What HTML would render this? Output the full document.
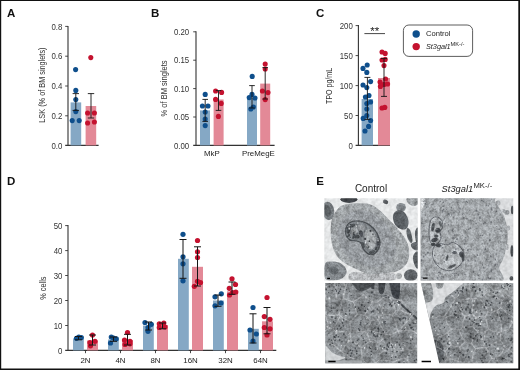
<!DOCTYPE html>
<html><head><meta charset="utf-8"><title>Figure</title>
<style>
html,body{margin:0;padding:0;background:#fff;}
body{width:520px;height:370px;overflow:hidden;font-family:"Liberation Sans",sans-serif;}
svg{display:block;position:absolute;left:0;top:0;}
text{font-family:"Liberation Sans",sans-serif;fill:#222;}
.tk{font-size:8.7px;fill:#333;}
.yl{font-size:9.8px;fill:#333;}
.xl{font-size:7.9px;fill:#222;}
.lg{font-size:7.6px;fill:#222;}
.pl{font-size:11.5px;font-weight:bold;fill:#111;}
.hd{font-size:10px;fill:#222;}
</style></head><body>
<svg width="520" height="370" viewBox="0 0 520 370">
<defs><filter id="nf" x="0" y="0" width="520" height="370" filterUnits="userSpaceOnUse"><feOffset dx="0" dy="0"/></filter></defs>
<rect x="0" y="0" width="520" height="370" fill="#fff"/>
<g filter="url(#nf)">
<path d="M68 25.9V145.4M65.2 145.4H98.6" stroke="#333" stroke-width="1.1" fill="none"/>
<path d="M65.2 26.4H68" stroke="#333" stroke-width="0.9"/>
<text transform="translate(62.4 29.5) scale(0.9 1)" text-anchor="end" class="tk">0.8</text>
<path d="M65.2 56.2H68" stroke="#333" stroke-width="0.9"/>
<text transform="translate(62.4 59.3) scale(0.9 1)" text-anchor="end" class="tk">0.6</text>
<path d="M65.2 86H68" stroke="#333" stroke-width="0.9"/>
<text transform="translate(62.4 89.1) scale(0.9 1)" text-anchor="end" class="tk">0.4</text>
<path d="M65.2 115.8H68" stroke="#333" stroke-width="0.9"/>
<text transform="translate(62.4 118.9) scale(0.9 1)" text-anchor="end" class="tk">0.2</text>
<text transform="translate(62.4 148.5) scale(0.9 1)" text-anchor="end" class="tk">0.0</text>
<text transform="translate(44.6 85.1) rotate(-90)" text-anchor="middle" class="yl" textLength="75.2" lengthAdjust="spacingAndGlyphs">LSK (% of BM singlets)</text>
<rect x="70.6" y="102.4" width="10.6" height="43.00" fill="#85a8c5"/>
<rect x="85.6" y="106" width="10.6" height="39.40" fill="#e38997"/>
<circle cx="75.6" cy="69.6" r="2.55" fill="#0f4f8c"/>
<circle cx="75.8" cy="90.4" r="2.55" fill="#0f4f8c"/>
<circle cx="75.8" cy="99.6" r="2.55" fill="#0f4f8c"/>
<circle cx="75.8" cy="111.6" r="2.55" fill="#0f4f8c"/>
<circle cx="72.2" cy="120.6" r="2.55" fill="#0f4f8c"/>
<circle cx="79.2" cy="120.6" r="2.55" fill="#0f4f8c"/>
<circle cx="90.8" cy="57.6" r="2.55" fill="#c4122f"/>
<circle cx="87.6" cy="113" r="2.55" fill="#c4122f"/>
<circle cx="94.4" cy="113" r="2.55" fill="#c4122f"/>
<circle cx="87.6" cy="123" r="2.55" fill="#c4122f"/>
<circle cx="94.4" cy="122" r="2.55" fill="#c4122f"/>
<path d="M72.6 93.6H79.0M72.6 110.4H79.0M75.8 93.6V110.4" stroke="#151515" stroke-width="0.9" fill="none"/>
<path d="M87.8 93.6H94.2M87.8 118H94.2M91 93.6V118" stroke="#151515" stroke-width="0.9" fill="none"/>
<path d="M196 31.3V145.4M193.2 145.4H274.6" stroke="#333" stroke-width="1.1" fill="none"/>
<path d="M193.2 31.8H196" stroke="#333" stroke-width="0.9"/>
<text transform="translate(189.2 34.9) scale(0.9 1)" text-anchor="end" class="tk">0.20</text>
<path d="M193.2 60.2H196" stroke="#333" stroke-width="0.9"/>
<text transform="translate(189.2 63.3) scale(0.9 1)" text-anchor="end" class="tk">0.15</text>
<path d="M193.2 88.6H196" stroke="#333" stroke-width="0.9"/>
<text transform="translate(189.2 91.7) scale(0.9 1)" text-anchor="end" class="tk">0.10</text>
<path d="M193.2 117H196" stroke="#333" stroke-width="0.9"/>
<text transform="translate(189.2 120.1) scale(0.9 1)" text-anchor="end" class="tk">0.05</text>
<text transform="translate(189.2 148.5) scale(0.9 1)" text-anchor="end" class="tk">0.00</text>
<text transform="translate(166.6 88.4) rotate(-90)" text-anchor="middle" class="yl" textLength="56" lengthAdjust="spacingAndGlyphs">% of BM singlets</text>
<rect x="200" y="110.4" width="10" height="35.00" fill="#85a8c5"/>
<rect x="213.6" y="99.5" width="10" height="45.90" fill="#e38997"/>
<rect x="247" y="98" width="10" height="47.40" fill="#85a8c5"/>
<rect x="260.2" y="83.6" width="10" height="61.80" fill="#e38997"/>
<circle cx="205.2" cy="94.4" r="2.55" fill="#0f4f8c"/>
<circle cx="202.4" cy="106" r="2.55" fill="#0f4f8c"/>
<circle cx="208" cy="106" r="2.55" fill="#0f4f8c"/>
<circle cx="205.2" cy="112" r="2.55" fill="#0f4f8c"/>
<circle cx="205.2" cy="119" r="2.55" fill="#0f4f8c"/>
<circle cx="205.2" cy="125.6" r="2.55" fill="#0f4f8c"/>
<circle cx="215.6" cy="91" r="2.55" fill="#c4122f"/>
<circle cx="221.6" cy="92.4" r="2.55" fill="#c4122f"/>
<circle cx="215.6" cy="99.4" r="2.55" fill="#c4122f"/>
<circle cx="221.2" cy="103.4" r="2.55" fill="#c4122f"/>
<circle cx="218.4" cy="116.4" r="2.55" fill="#c4122f"/>
<circle cx="252.2" cy="76.4" r="2.55" fill="#0f4f8c"/>
<circle cx="252" cy="94.4" r="2.55" fill="#0f4f8c"/>
<circle cx="249.2" cy="97.6" r="2.55" fill="#0f4f8c"/>
<circle cx="255" cy="98" r="2.55" fill="#0f4f8c"/>
<circle cx="253.4" cy="107" r="2.55" fill="#0f4f8c"/>
<circle cx="250.8" cy="109" r="2.55" fill="#0f4f8c"/>
<circle cx="265.2" cy="64" r="2.55" fill="#c4122f"/>
<circle cx="265.2" cy="69" r="2.55" fill="#c4122f"/>
<circle cx="262.4" cy="91" r="2.55" fill="#c4122f"/>
<circle cx="268" cy="92.6" r="2.55" fill="#c4122f"/>
<circle cx="265.2" cy="99.6" r="2.55" fill="#c4122f"/>
<text x="211.8" y="156" text-anchor="middle" class="xl">MkP</text>
<text x="258.4" y="156" text-anchor="middle" class="xl">PreMegE</text>
<path d="M202.39999999999998 99.4H208.0M202.39999999999998 121.4H208.0M205.2 99.4V121.4" stroke="#151515" stroke-width="0.9" fill="none"/>
<path d="M215.7 90.6H221.3M215.7 110.4H221.3M218.5 90.6V110.4" stroke="#151515" stroke-width="0.9" fill="none"/>
<path d="M249.2 85.6H254.8M249.2 108H254.8M252 85.6V108" stroke="#151515" stroke-width="0.9" fill="none"/>
<path d="M262.4 67.6H268.0M262.4 99H268.0M265.2 67.6V99" stroke="#151515" stroke-width="0.9" fill="none"/>
<path d="M358.4 25.1V145.4M355.59999999999997 145.4H390" stroke="#333" stroke-width="1.1" fill="none"/>
<path d="M355.59999999999997 25.6H358.4" stroke="#333" stroke-width="0.9"/>
<text transform="translate(352.8 28.7) scale(0.9 1)" text-anchor="end" class="tk">200</text>
<path d="M355.59999999999997 55.6H358.4" stroke="#333" stroke-width="0.9"/>
<text transform="translate(352.8 58.7) scale(0.9 1)" text-anchor="end" class="tk">150</text>
<path d="M355.59999999999997 85.6H358.4" stroke="#333" stroke-width="0.9"/>
<text transform="translate(352.8 88.7) scale(0.9 1)" text-anchor="end" class="tk">100</text>
<path d="M355.59999999999997 115.5H358.4" stroke="#333" stroke-width="0.9"/>
<text transform="translate(352.8 118.6) scale(0.9 1)" text-anchor="end" class="tk">50</text>
<text transform="translate(352.8 148.5) scale(0.9 1)" text-anchor="end" class="tk">0</text>
<text transform="translate(332.4 85.9) rotate(-90)" text-anchor="middle" class="yl" textLength="36" lengthAdjust="spacingAndGlyphs">TPO pg/mL</text>
<rect x="361.6" y="99" width="11.4" height="46.40" fill="#85a8c5"/>
<rect x="378" y="78" width="12" height="67.40" fill="#e38997"/>
<circle cx="367.2" cy="65" r="2.55" fill="#0f4f8c"/>
<circle cx="363" cy="68.4" r="2.55" fill="#0f4f8c"/>
<circle cx="366.8" cy="72.4" r="2.55" fill="#0f4f8c"/>
<circle cx="370.6" cy="81.6" r="2.55" fill="#0f4f8c"/>
<circle cx="363" cy="85" r="2.55" fill="#0f4f8c"/>
<circle cx="366.8" cy="87.6" r="2.55" fill="#0f4f8c"/>
<circle cx="369" cy="95.6" r="2.55" fill="#0f4f8c"/>
<circle cx="365.4" cy="97" r="2.55" fill="#0f4f8c"/>
<circle cx="370.6" cy="102" r="2.55" fill="#0f4f8c"/>
<circle cx="366.8" cy="103.6" r="2.55" fill="#0f4f8c"/>
<circle cx="366.8" cy="109" r="2.55" fill="#0f4f8c"/>
<circle cx="366.8" cy="115.6" r="2.55" fill="#0f4f8c"/>
<circle cx="363.2" cy="118.4" r="2.55" fill="#0f4f8c"/>
<circle cx="370.6" cy="120.6" r="2.55" fill="#0f4f8c"/>
<circle cx="368.6" cy="126.4" r="2.55" fill="#0f4f8c"/>
<circle cx="365" cy="131" r="2.55" fill="#0f4f8c"/>
<circle cx="382" cy="52" r="2.55" fill="#c4122f"/>
<circle cx="385.2" cy="53.4" r="2.55" fill="#c4122f"/>
<circle cx="382" cy="60" r="2.55" fill="#c4122f"/>
<circle cx="385.2" cy="59.4" r="2.55" fill="#c4122f"/>
<circle cx="384" cy="65.6" r="2.55" fill="#c4122f"/>
<circle cx="385.6" cy="79" r="2.55" fill="#c4122f"/>
<circle cx="380" cy="82" r="2.55" fill="#c4122f"/>
<circle cx="384" cy="84.4" r="2.55" fill="#c4122f"/>
<circle cx="387.6" cy="84" r="2.55" fill="#c4122f"/>
<circle cx="380.4" cy="86.4" r="2.55" fill="#c4122f"/>
<circle cx="382" cy="108" r="2.55" fill="#c4122f"/>
<circle cx="384.8" cy="107.4" r="2.55" fill="#c4122f"/>
<path d="M364.4 33.6H385" stroke="#333" stroke-width="0.9"/>
<text x="374.7" y="35" text-anchor="middle" style="font-size:11.5px" fill="#222">**</text>
<path d="M364.4 77.4H370.4M364.4 119.4H370.4M367.4 77.4V119.4" stroke="#151515" stroke-width="0.9" fill="none"/>
<path d="M381 58.6H387M381 96.4H387M384 58.6V96.4" stroke="#151515" stroke-width="0.9" fill="none"/>
<rect x="403.4" y="25" width="69.2" height="31.4" rx="5.5" fill="#fff" stroke="#333" stroke-width="0.8"/>
<circle cx="416.2" cy="34" r="3.7" fill="#0f4f8c"/><circle cx="416.2" cy="46.6" r="3.7" fill="#c4122f"/>
<text x="426" y="36.3" class="lg">Control</text>
<text x="426" y="49" class="lg" font-style="italic" style="font-size:7.25px">St3gal1</text>
<text x="450.6" y="46.3" class="lg" style="font-size:5.6px" textLength="13.8" lengthAdjust="spacingAndGlyphs">MK-/-</text>
<path d="M68 225.1V350.4M65.2 350.4H276.3" stroke="#333" stroke-width="1.1" fill="none"/>
<path d="M65.2 225.6H68" stroke="#333" stroke-width="0.9"/>
<text transform="translate(62.4 228.7) scale(0.9 1)" text-anchor="end" class="tk">50</text>
<path d="M65.2 250.6H68" stroke="#333" stroke-width="0.9"/>
<text transform="translate(62.4 253.7) scale(0.9 1)" text-anchor="end" class="tk">40</text>
<path d="M65.2 275.5H68" stroke="#333" stroke-width="0.9"/>
<text transform="translate(62.4 278.6) scale(0.9 1)" text-anchor="end" class="tk">30</text>
<path d="M65.2 300.5H68" stroke="#333" stroke-width="0.9"/>
<text transform="translate(62.4 303.6) scale(0.9 1)" text-anchor="end" class="tk">20</text>
<path d="M65.2 325.5H68" stroke="#333" stroke-width="0.9"/>
<text transform="translate(62.4 328.6) scale(0.9 1)" text-anchor="end" class="tk">10</text>
<text transform="translate(62.4 353.5) scale(0.9 1)" text-anchor="end" class="tk">0</text>
<text transform="translate(46.4 288.2) rotate(-90)" text-anchor="middle" class="yl" textLength="23.3" lengthAdjust="spacingAndGlyphs">% cells</text>
<rect x="73" y="338.6" width="10.8" height="11.80" fill="#85a8c5"/>
<rect x="87" y="340.5" width="11" height="9.90" fill="#e38997"/>
<path d="M85.5 350.4v2.8" stroke="#333" stroke-width="0.9"/>
<text x="85.5" y="362.8" text-anchor="middle" class="xl">2N</text>
<rect x="108" y="339.5" width="10.8" height="10.90" fill="#85a8c5"/>
<rect x="122" y="340" width="11" height="10.40" fill="#e38997"/>
<path d="M120.5 350.4v2.8" stroke="#333" stroke-width="0.9"/>
<text x="120.5" y="362.8" text-anchor="middle" class="xl">4N</text>
<rect x="143" y="325.5" width="10.8" height="24.90" fill="#85a8c5"/>
<rect x="157" y="325" width="11" height="25.40" fill="#e38997"/>
<path d="M155.5 350.4v2.8" stroke="#333" stroke-width="0.9"/>
<text x="155.5" y="362.8" text-anchor="middle" class="xl">8N</text>
<rect x="178" y="258.8" width="10.8" height="91.60" fill="#85a8c5"/>
<rect x="192" y="266.8" width="11" height="83.60" fill="#e38997"/>
<path d="M190.5 350.4v2.8" stroke="#333" stroke-width="0.9"/>
<text x="190.5" y="362.8" text-anchor="middle" class="xl">16N</text>
<rect x="213" y="300.5" width="10.8" height="49.90" fill="#85a8c5"/>
<rect x="227" y="291.3" width="11" height="59.10" fill="#e38997"/>
<path d="M225.5 350.4v2.8" stroke="#333" stroke-width="0.9"/>
<text x="225.5" y="362.8" text-anchor="middle" class="xl">32N</text>
<rect x="248" y="328.8" width="10.8" height="21.60" fill="#85a8c5"/>
<rect x="262" y="321.3" width="11" height="29.10" fill="#e38997"/>
<path d="M260.5 350.4v2.8" stroke="#333" stroke-width="0.9"/>
<text x="260.5" y="362.8" text-anchor="middle" class="xl">64N</text>
<circle cx="76.5" cy="338.3" r="2.6" fill="#0f4f8c"/>
<circle cx="78.8" cy="337" r="2.6" fill="#0f4f8c"/>
<circle cx="81.3" cy="337.5" r="2.6" fill="#0f4f8c"/>
<circle cx="92.5" cy="335" r="2.6" fill="#c4122f"/>
<circle cx="95" cy="341.3" r="2.6" fill="#c4122f"/>
<circle cx="90" cy="342.5" r="2.6" fill="#c4122f"/>
<circle cx="90.5" cy="345.8" r="2.6" fill="#c4122f"/>
<circle cx="111.3" cy="337" r="2.6" fill="#0f4f8c"/>
<circle cx="116.3" cy="338.8" r="2.6" fill="#0f4f8c"/>
<circle cx="113.5" cy="338" r="2.6" fill="#0f4f8c"/>
<circle cx="110.5" cy="343" r="2.6" fill="#0f4f8c"/>
<circle cx="127.5" cy="332.5" r="2.6" fill="#c4122f"/>
<circle cx="124.5" cy="340" r="2.6" fill="#c4122f"/>
<circle cx="130" cy="341.3" r="2.6" fill="#c4122f"/>
<circle cx="125" cy="344.5" r="2.6" fill="#c4122f"/>
<circle cx="130" cy="343.8" r="2.6" fill="#c4122f"/>
<circle cx="145" cy="322.5" r="2.6" fill="#0f4f8c"/>
<circle cx="151.3" cy="324.3" r="2.6" fill="#0f4f8c"/>
<circle cx="148" cy="327.5" r="2.6" fill="#0f4f8c"/>
<circle cx="148" cy="331.3" r="2.6" fill="#0f4f8c"/>
<circle cx="159.3" cy="323.8" r="2.6" fill="#c4122f"/>
<circle cx="163.8" cy="323" r="2.6" fill="#c4122f"/>
<circle cx="159.3" cy="327.5" r="2.6" fill="#c4122f"/>
<circle cx="165" cy="327" r="2.6" fill="#c4122f"/>
<circle cx="183" cy="234.3" r="2.6" fill="#0f4f8c"/>
<circle cx="183" cy="256.8" r="2.6" fill="#0f4f8c"/>
<circle cx="183" cy="263.8" r="2.6" fill="#0f4f8c"/>
<circle cx="183" cy="280.8" r="2.6" fill="#0f4f8c"/>
<circle cx="197.5" cy="240.5" r="2.6" fill="#c4122f"/>
<circle cx="197.5" cy="251.8" r="2.6" fill="#c4122f"/>
<circle cx="197.5" cy="257.5" r="2.6" fill="#c4122f"/>
<circle cx="197.5" cy="281.3" r="2.6" fill="#c4122f"/>
<circle cx="200.5" cy="282.5" r="2.6" fill="#c4122f"/>
<circle cx="194.3" cy="286.3" r="2.6" fill="#c4122f"/>
<circle cx="221.3" cy="293.8" r="2.6" fill="#0f4f8c"/>
<circle cx="215" cy="296.8" r="2.6" fill="#0f4f8c"/>
<circle cx="221" cy="303" r="2.6" fill="#0f4f8c"/>
<circle cx="215" cy="305.8" r="2.6" fill="#0f4f8c"/>
<circle cx="232" cy="278.8" r="2.6" fill="#c4122f"/>
<circle cx="235.5" cy="284.5" r="2.6" fill="#c4122f"/>
<circle cx="229.3" cy="288.3" r="2.6" fill="#c4122f"/>
<circle cx="235.8" cy="292" r="2.6" fill="#c4122f"/>
<circle cx="229.5" cy="295" r="2.6" fill="#c4122f"/>
<circle cx="232.5" cy="292.5" r="2.6" fill="#c4122f"/>
<circle cx="253" cy="307.5" r="2.6" fill="#0f4f8c"/>
<circle cx="250" cy="330" r="2.6" fill="#0f4f8c"/>
<circle cx="256.3" cy="334" r="2.6" fill="#0f4f8c"/>
<circle cx="253" cy="341" r="2.6" fill="#0f4f8c"/>
<circle cx="267" cy="297.5" r="2.6" fill="#c4122f"/>
<circle cx="264.3" cy="316.6" r="2.6" fill="#c4122f"/>
<circle cx="270" cy="319.3" r="2.6" fill="#c4122f"/>
<circle cx="264.3" cy="327.5" r="2.6" fill="#c4122f"/>
<circle cx="270" cy="328.8" r="2.6" fill="#c4122f"/>
<circle cx="267" cy="335" r="2.6" fill="#c4122f"/>
<path d="M75.0 336.5H82.0M75.0 339.8H82.0M78.5 336.5V339.8" stroke="#151515" stroke-width="1.0" fill="none"/>
<path d="M89.0 335H96.0M89.0 345H96.0M92.5 335V345" stroke="#151515" stroke-width="1.0" fill="none"/>
<path d="M110.0 337H117.0M110.0 341.3H117.0M113.5 337V341.3" stroke="#151515" stroke-width="1.0" fill="none"/>
<path d="M124.0 334.3H131.0M124.0 345H131.0M127.5 334.3V345" stroke="#151515" stroke-width="1.0" fill="none"/>
<path d="M145.0 322H152.0M145.0 330H152.0M148.5 322V330" stroke="#151515" stroke-width="1.0" fill="none"/>
<path d="M159.0 323H166.0M159.0 328.8H166.0M162.5 323V328.8" stroke="#151515" stroke-width="1.0" fill="none"/>
<path d="M179.5 239.5H186.5M179.5 278.3H186.5M183 239.5V278.3" stroke="#151515" stroke-width="1.0" fill="none"/>
<path d="M194.0 246.8H201.0M194.0 286H201.0M197.5 246.8V286" stroke="#151515" stroke-width="1.0" fill="none"/>
<path d="M214.5 295H221.5M214.5 306.3H221.5M218 295V306.3" stroke="#151515" stroke-width="1.0" fill="none"/>
<path d="M228.5 282H235.5M228.5 294.3H235.5M232 282V294.3" stroke="#151515" stroke-width="1.0" fill="none"/>
<path d="M249.5 313.8H256.5M249.5 343H256.5M253 313.8V343" stroke="#151515" stroke-width="1.0" fill="none"/>
<path d="M263.5 307.5H270.5M263.5 333.8H270.5M267 307.5V333.8" stroke="#151515" stroke-width="1.0" fill="none"/>
<text x="7" y="16.8" class="pl">A</text>
<text x="151" y="16.8" class="pl">B</text>
<text x="316" y="16.9" class="pl">C</text>
<text x="7" y="184.6" class="pl">D</text>
<text x="316.2" y="184.8" class="pl">E</text>
<text x="371" y="192" text-anchor="middle" class="hd">Control</text>
<text x="441.6" y="192" class="hd" font-style="italic" style="font-size:9.3px">St3gal1</text>
<text x="473.4" y="188.4" class="hd" style="font-size:7px" textLength="18.8" lengthAdjust="spacingAndGlyphs">MK-/-</text>
</g>
<defs>
<filter id="tex" x="0" y="0" width="100%" height="100%" color-interpolation-filters="sRGB">
<feTurbulence type="fractalNoise" baseFrequency="0.2" numOctaves="2" seed="3" result="n1"/>
<feTurbulence type="fractalNoise" baseFrequency="0.55" numOctaves="2" seed="10" result="n2"/>
<feColorMatrix in="n1" type="matrix" values="2.2 0 0 0 -0.45  2.2 0 0 0 -0.45  2.2 0 0 0 -0.45  0 0 0 0 1" result="g1"/>
<feColorMatrix in="n2" type="matrix" values="1.6 0 0 0 -0.15  1.6 0 0 0 -0.15  1.6 0 0 0 -0.15  0 0 0 0 1" result="g2"/>
<feComposite in="g1" in2="g2" operator="arithmetic" k1="0" k2="0.5" k3="0.5" k4="0" result="gm"/>
<feColorMatrix in="gm" type="matrix" values="1 0 0 0 0  0 1 0 0 0  0 0 1 0 0  0 0 0 0 0.5" result="g"/>
<feColorMatrix in="SourceGraphic" type="matrix" values="1.187 0 0 0 0  0 1.187 0 0 0  0 0 1.187 0 0  0 0 0 1 0" result="s"/>
<feGaussianBlur in="s" stdDeviation="0.45" result="b"/>
<feComposite in="b" in2="g" operator="arithmetic" k1="0.900" k2="0.550" k3="0" k4="0"/>
</filter>
<filter id="tex2" x="0" y="0" width="100%" height="100%" color-interpolation-filters="sRGB">
<feTurbulence type="fractalNoise" baseFrequency="0.09" numOctaves="2" seed="11" result="n1"/>
<feTurbulence type="fractalNoise" baseFrequency="0.42" numOctaves="2" seed="18" result="n2"/>
<feColorMatrix in="n1" type="matrix" values="2.2 0 0 0 -0.45  2.2 0 0 0 -0.45  2.2 0 0 0 -0.45  0 0 0 0 1" result="g1"/>
<feColorMatrix in="n2" type="matrix" values="1.6 0 0 0 -0.15  1.6 0 0 0 -0.15  1.6 0 0 0 -0.15  0 0 0 0 1" result="g2"/>
<feComposite in="g1" in2="g2" operator="arithmetic" k1="0" k2="0.45" k3="0.55" k4="0" result="gm"/>
<feColorMatrix in="gm" type="matrix" values="1 0 0 0 0  0 1 0 0 0  0 0 1 0 0  0 0 0 0 0.5" result="g"/>
<feColorMatrix in="SourceGraphic" type="matrix" values="1.238 0 0 0 0  0 1.238 0 0 0  0 0 1.238 0 0  0 0 0 1 0" result="s"/>
<feGaussianBlur in="s" stdDeviation="0.45" result="b"/>
<feComposite in="b" in2="g" operator="arithmetic" k1="1.100" k2="0.450" k3="0" k4="0"/>
</filter>
<filter id="texL" x="0" y="0" width="100%" height="100%" color-interpolation-filters="sRGB">
<feTurbulence type="fractalNoise" baseFrequency="0.25" numOctaves="2" seed="5" result="n"/>
<feColorMatrix in="n" type="matrix" values="1.6 0 0 0 -0.15  1.6 0 0 0 -0.15  1.6 0 0 0 -0.15  0 0 0 0 0.5" result="g"/>
<feColorMatrix in="SourceGraphic" type="matrix" values="1.044 0 0 0 0  0 1.044 0 0 0  0 0 1.044 0 0  0 0 0 1 0" result="s"/>
<feGaussianBlur in="s" stdDeviation="0.5" result="b"/>
<feComposite in="b" in2="g" operator="arithmetic" k1="0.240" k2="0.880" k3="0" k4="0"/>
</filter>
<clipPath id="cTL"><rect x="324.3" y="198.2" width="93.4" height="82.4"/></clipPath>
<clipPath id="cTR"><rect x="420.6" y="198.2" width="92.7" height="82.4"/></clipPath>
<clipPath id="cBL"><rect x="325.2" y="283" width="92" height="80.3"/></clipPath>
<clipPath id="cBR"><path d="M421 283H513.3V363.3H439.3Z"/></clipPath>
</defs>
<g clip-path="url(#cTL)"><g filter="url(#texL)">
<rect x="320" y="195" width="102" height="90" fill="#e6e8e9"/>
</g><g filter="url(#tex)">
<ellipse cx="328.2" cy="210.9" rx="6" ry="9.3" fill="#777c80" transform="rotate(-8 328.2 210.9)" />
<ellipse cx="327.5" cy="211" rx="3.5" ry="6" fill="#5f6468" transform="rotate(-8 327.5 211)" />
<ellipse cx="348.9" cy="199.3" rx="8.5" ry="3.6" fill="#3e4246" />
<ellipse cx="385.6" cy="201.8" rx="2.7" ry="2.1" fill="#5c6064" transform="rotate(25 385.6 201.8)" />
<path d="M407.0 198.0C408.7 197.2 416.2 197.0 418.0 198.0C419.8 199.0 418.8 202.7 418.0 204.0C417.2 205.3 414.7 206.2 413.0 206.0C411.3 205.8 409.0 204.3 408.0 203.0C407.0 201.7 405.3 198.8 407.0 198.0Z" fill="#9a9ea1" />
<ellipse cx="401" cy="207.5" rx="4.8" ry="4.6" fill="#83888c" />
<path d="M394.0 213.0C395.0 211.5 397.2 210.0 399.0 210.0C400.8 210.0 403.4 211.2 405.0 213.0C406.6 214.8 408.2 218.5 408.5 221.0C408.8 223.5 408.1 226.6 407.0 228.0C405.9 229.4 403.8 229.8 402.0 229.5C400.2 229.2 397.5 227.8 396.0 226.0C394.5 224.2 393.3 221.2 393.0 219.0C392.7 216.8 393.0 214.5 394.0 213.0Z" fill="#5c6165" />
<path d="M407.5 228.0C408.2 227.8 409.7 229.0 410.5 231.0C411.3 233.0 412.4 238.0 412.5 240.0C412.6 242.0 411.8 243.2 411.0 243.0C410.2 242.8 408.8 240.8 408.0 239.0C407.2 237.2 406.6 233.8 406.5 232.0C406.4 230.2 406.8 228.2 407.5 228.0Z" fill="#5e6367" />
<path d="M415.0 232.0C415.3 229.7 417.5 226.2 418.0 228.0C418.5 229.8 418.3 240.7 418.0 243.0C417.7 245.3 416.5 243.8 416.0 242.0C415.5 240.2 414.7 234.3 415.0 232.0Z" fill="#5a5f63" />
<path d="M411.0 244.0C411.8 242.8 416.8 241.0 418.0 242.0C419.2 243.0 418.8 248.8 418.0 250.0C417.2 251.2 414.2 250.0 413.0 249.0C411.8 248.0 410.2 245.2 411.0 244.0Z" fill="#63686c" />
<path d="M414.0 254.0C414.8 252.8 417.3 249.7 418.0 252.0C418.7 254.3 418.5 265.7 418.0 268.0C417.5 270.3 415.8 267.5 415.0 266.0C414.2 264.5 413.2 261.0 413.0 259.0C412.8 257.0 413.2 255.2 414.0 254.0Z" fill="#5e6367" />
<ellipse cx="410.8" cy="275.3" rx="6.8" ry="6" fill="#62666a" />
<ellipse cx="399" cy="276" rx="3" ry="3" fill="#a8abad" />
<path d="M325.0 264.0C326.0 261.2 328.7 261.8 331.0 261.5C333.3 261.2 336.7 261.6 339.0 262.5C341.3 263.4 343.8 265.2 345.0 267.0C346.2 268.8 347.0 271.1 346.5 273.0C346.0 274.9 344.2 277.2 342.0 278.5C339.8 279.8 335.8 280.6 333.0 280.5C330.2 280.4 326.3 280.8 325.0 278.0C323.7 275.2 324.0 266.8 325.0 264.0Z" fill="#868b8f" />
<ellipse cx="333.5" cy="270.5" rx="5" ry="4" fill="#666b6f" transform="rotate(15 333.5 270.5)" />
<path d="M352.0 272.0C355.3 270.8 365.3 273.8 372.0 274.0C378.7 274.2 388.0 272.5 392.0 273.0C396.0 273.5 396.3 275.7 396.0 277.0C395.7 278.3 397.3 280.3 390.0 281.0C382.7 281.7 358.3 282.5 352.0 281.0C345.7 279.5 348.7 273.2 352.0 272.0Z" fill="#b4b7b9" />
<path d="M336.5 210.5C337.9 208.7 339.1 207.1 341.0 206.0C342.9 204.9 345.3 204.3 348.0 203.8C350.7 203.3 353.9 203.2 357.0 203.2C360.1 203.2 363.6 203.2 366.3 203.6C369.0 204.0 370.7 204.3 373.0 205.5C375.3 206.7 377.8 208.7 380.0 210.5C382.2 212.3 383.8 214.3 386.0 216.5C388.2 218.7 390.7 221.0 393.0 223.5C395.3 226.0 397.7 228.6 400.0 231.5C402.3 234.4 405.1 237.6 406.6 241.0C408.1 244.4 409.1 248.3 409.2 252.0C409.3 255.7 408.7 259.9 407.0 263.0C405.3 266.1 402.2 268.8 399.0 270.5C395.8 272.2 392.8 272.4 388.0 273.0C383.2 273.6 375.2 274.8 370.0 274.2C364.8 273.6 360.8 271.1 357.0 269.5C353.2 267.9 350.1 266.4 347.0 264.5C343.9 262.6 340.8 260.6 338.5 258.0C336.2 255.4 334.8 252.3 333.5 249.0C332.2 245.7 331.4 241.8 331.0 238.0C330.6 234.2 330.6 229.5 330.8 226.0C331.1 222.5 331.6 219.6 332.5 217.0C333.4 214.4 335.1 212.3 336.5 210.5Z" fill="#a0a4a7" />
<path d="M341.0 222.0C343.3 219.0 347.5 213.8 352.0 212.0C356.5 210.2 363.0 209.7 368.0 211.0C373.0 212.3 378.0 216.2 382.0 220.0C386.0 223.8 389.7 229.0 392.0 234.0C394.3 239.0 396.3 245.3 396.0 250.0C395.7 254.7 393.3 259.2 390.0 262.0C386.7 264.8 381.0 266.7 376.0 267.0C371.0 267.3 364.8 265.8 360.0 264.0C355.2 262.2 350.5 259.7 347.0 256.0C343.5 252.3 340.5 246.3 339.0 242.0C337.5 237.7 337.7 233.3 338.0 230.0C338.3 226.7 338.7 225.0 341.0 222.0Z" fill="#979b9f" />
<path d="M345.5 231.5C345.5 228.7 346.9 224.7 349.2 222.9C351.5 221.2 355.8 220.7 359.1 221.0C362.4 221.3 366.2 222.7 369.1 224.6C372.0 226.5 374.8 229.7 376.6 232.7C378.4 235.7 379.9 239.6 379.9 242.7C379.9 245.8 378.4 249.5 376.8 251.5C375.2 253.5 372.4 254.8 370.3 254.6C368.2 254.4 365.7 252.1 364.1 250.2C362.6 248.3 362.2 244.5 361.0 243.0C359.8 241.5 358.7 241.6 356.7 241.0C354.7 240.4 351.1 241.2 349.2 239.6C347.3 238.0 345.5 234.3 345.5 231.5Z" fill="#7c8185" stroke="#4c5054" stroke-width="1.3"/>
<path d="M365.5 231.0C366.5 229.4 369.0 229.0 370.5 229.5C372.0 230.0 373.6 232.1 374.5 234.0C375.4 235.9 376.0 238.8 376.0 241.0C376.0 243.2 375.4 245.6 374.5 247.0C373.6 248.4 371.8 249.7 370.5 249.5C369.2 249.3 367.5 247.8 366.5 246.0C365.5 244.2 364.7 241.5 364.5 239.0C364.3 236.5 364.5 232.6 365.5 231.0Z" fill="#a6aaad" />
<path d="M351.0 229.0C351.5 227.7 353.8 226.8 355.0 227.0C356.2 227.2 357.8 228.8 358.0 230.0C358.2 231.2 357.0 233.7 356.0 234.5C355.0 235.3 352.8 235.9 352.0 235.0C351.2 234.1 350.5 230.3 351.0 229.0Z" fill="#9a9ea1" />
<path d="M358.5 225.0C359.5 224.4 362.9 224.8 364.0 225.5C365.1 226.2 365.5 228.0 365.0 229.0C364.5 230.0 362.2 231.5 361.0 231.5C359.8 231.5 358.4 230.1 358.0 229.0C357.6 227.9 357.5 225.6 358.5 225.0Z" fill="#94989b" />
<ellipse cx="348.5" cy="230" rx="2" ry="3.6" fill="#474b4f" transform="rotate(15 348.5 230)" />
<ellipse cx="352.5" cy="225.5" rx="3" ry="1.6" fill="#4a4e52" transform="rotate(-25 352.5 225.5)" />
<ellipse cx="356.5" cy="236.5" rx="3.2" ry="1.8" fill="#4a4e52" transform="rotate(10 356.5 236.5)" />
<ellipse cx="361.5" cy="234" rx="1.6" ry="3" fill="#50545a" />
<ellipse cx="363" cy="245" rx="1.5" ry="3.4" fill="#4a4e52" transform="rotate(-15 363 245)" />
<ellipse cx="372" cy="252" rx="3.2" ry="1.6" fill="#4a4e52" transform="rotate(-20 372 252)" />
<ellipse cx="378" cy="243" rx="1.3" ry="3.6" fill="#50545a" transform="rotate(5 378 243)" />
<path d="M356.3 226.1m-0.8 0a0.8 0.8 0 1 0 1.5 0a0.8 0.8 0 1 0 -1.5 0M357.8 223.0m-0.7 0a0.7 0.7 0 1 0 1.4 0a0.7 0.7 0 1 0 -1.4 0M349.3 228.6m-0.8 0a0.8 0.8 0 1 0 1.5 0a0.8 0.8 0 1 0 -1.5 0M378.2 240.6m-0.7 0a0.7 0.7 0 1 0 1.3 0a0.7 0.7 0 1 0 -1.3 0M350.0 225.0m-0.6 0a0.6 0.6 0 1 0 1.2 0a0.6 0.6 0 1 0 -1.2 0M365.4 242.7m-0.6 0a0.6 0.6 0 1 0 1.3 0a0.6 0.6 0 1 0 -1.3 0" fill="#d0d3d5"/>
<path d="M347.1 228.0m-0.9 0a0.9 0.9 0 1 0 1.8 0a0.9 0.9 0 1 0 -1.8 0M360.0 231.7m-0.9 0a0.9 0.9 0 1 0 1.7 0a0.9 0.9 0 1 0 -1.7 0M360.9 231.2m-1.0 0a1.0 1.0 0 1 0 2.0 0a1.0 1.0 0 1 0 -2.0 0M365.1 238.9m-1.0 0a1.0 1.0 0 1 0 2.1 0a1.0 1.0 0 1 0 -2.1 0M370.5 230.8m-1.1 0a1.1 1.1 0 1 0 2.2 0a1.1 1.1 0 1 0 -2.2 0M349.1 235.2m-1.0 0a1.0 1.0 0 1 0 1.9 0a1.0 1.0 0 1 0 -1.9 0M350.3 237.6m-0.5 0a0.5 0.5 0 1 0 1.0 0a0.5 0.5 0 1 0 -1.0 0M368.4 247.0m-0.8 0a0.8 0.8 0 1 0 1.7 0a0.8 0.8 0 1 0 -1.7 0M369.3 241.2m-0.8 0a0.8 0.8 0 1 0 1.7 0a0.8 0.8 0 1 0 -1.7 0M378.1 237.1m-0.9 0a0.9 0.9 0 1 0 1.8 0a0.9 0.9 0 1 0 -1.8 0M350.9 225.0m-0.5 0a0.5 0.5 0 1 0 1.1 0a0.5 0.5 0 1 0 -1.1 0M353.7 234.3m-1.0 0a1.0 1.0 0 1 0 2.0 0a1.0 1.0 0 1 0 -2.0 0M347.8 236.3m-0.8 0a0.8 0.8 0 1 0 1.7 0a0.8 0.8 0 1 0 -1.7 0M375.9 248.9m-1.0 0a1.0 1.0 0 1 0 2.0 0a1.0 1.0 0 1 0 -2.0 0M354.7 235.1m-0.7 0a0.7 0.7 0 1 0 1.4 0a0.7 0.7 0 1 0 -1.4 0M350.3 227.0m-0.6 0a0.6 0.6 0 1 0 1.3 0a0.6 0.6 0 1 0 -1.3 0M353.2 237.5m-0.9 0a0.9 0.9 0 1 0 1.7 0a0.9 0.9 0 1 0 -1.7 0M359.7 233.6m-0.8 0a0.8 0.8 0 1 0 1.7 0a0.8 0.8 0 1 0 -1.7 0M378.4 244.5m-0.8 0a0.8 0.8 0 1 0 1.6 0a0.8 0.8 0 1 0 -1.6 0M366.6 244.0m-0.5 0a0.5 0.5 0 1 0 1.1 0a0.5 0.5 0 1 0 -1.1 0M376.5 247.5m-1.0 0a1.0 1.0 0 1 0 2.0 0a1.0 1.0 0 1 0 -2.0 0M372.9 234.3m-0.7 0a0.7 0.7 0 1 0 1.5 0a0.7 0.7 0 1 0 -1.5 0M352.3 226.5m-0.7 0a0.7 0.7 0 1 0 1.4 0a0.7 0.7 0 1 0 -1.4 0M350.3 224.4m-0.7 0a0.7 0.7 0 1 0 1.4 0a0.7 0.7 0 1 0 -1.4 0M353.8 232.8m-0.7 0a0.7 0.7 0 1 0 1.4 0a0.7 0.7 0 1 0 -1.4 0M348.6 232.6m-0.7 0a0.7 0.7 0 1 0 1.3 0a0.7 0.7 0 1 0 -1.3 0" fill="#3e4246"/>
</g>
<path d="M327.2 278.3H330" stroke="#000" stroke-width="1.3"/>
</g>
<g clip-path="url(#cTR)"><g filter="url(#texL)">
<rect x="418" y="195" width="100" height="90" fill="#d8dadc"/>
</g><g filter="url(#tex)">
<path d="M415.0 190.0C427.7 174.5 477.7 188.2 491.0 190.0C504.3 191.8 493.5 197.8 495.0 201.0C496.5 204.2 498.3 205.9 500.0 209.0C501.7 212.1 504.0 215.2 505.3 219.8C506.6 224.4 507.9 230.6 507.8 236.5C507.7 242.4 505.9 250.3 504.5 255.5C503.1 260.6 500.6 262.8 499.3 267.4C498.1 272.0 511.1 280.4 497.0 283.0C482.9 285.6 428.7 298.5 415.0 283.0C401.3 267.5 402.3 205.5 415.0 190.0Z" fill="#a3a7aa" />
<path d="M421.0 199.0C421.7 197.2 424.4 198.3 425.0 199.0C425.6 199.7 424.8 201.3 424.5 203.0C424.2 204.7 423.6 207.8 423.0 209.0C422.4 210.2 421.3 211.7 421.0 210.0C420.7 208.3 420.3 200.8 421.0 199.0Z" fill="#cfd2d4" />
<ellipse cx="498" cy="203" rx="2.5" ry="2.5" fill="#a9adb0" />
<ellipse cx="503.5" cy="211" rx="2" ry="2" fill="#a9adb0" />
<ellipse cx="508.5" cy="228" rx="1.8" ry="2.4" fill="#a9adb0" />
<ellipse cx="507" cy="247" rx="1.8" ry="3" fill="#a9adb0" />
<ellipse cx="506.8" cy="212.5" rx="2.6" ry="2.4" fill="#9ea2a5" />
<ellipse cx="512.2" cy="210" rx="1.3" ry="4.2" fill="#4c5054" />
<ellipse cx="512" cy="251" rx="1.6" ry="6" fill="#4c5054" />
<ellipse cx="511.5" cy="278.5" rx="2" ry="2.5" fill="#5a5e62" />
<path d="M430.5 221.0C431.3 218.7 432.7 217.8 434.0 217.2C435.3 216.6 437.2 216.9 438.5 217.5C439.8 218.1 441.3 219.4 442.0 221.0C442.7 222.6 442.8 225.2 442.5 227.0C442.2 228.8 440.2 230.2 440.0 232.0C439.8 233.8 441.3 236.2 441.0 238.0C440.7 239.8 439.3 241.8 438.0 243.0C436.7 244.2 434.4 245.5 433.0 245.0C431.6 244.5 430.5 242.3 429.8 240.0C429.1 237.7 428.9 234.2 429.0 231.0C429.1 227.8 429.7 223.3 430.5 221.0Z" fill="#b3b7ba" stroke="#50545a" stroke-width="0.8"/>
<path d="M434.0 247.0C435.2 245.1 437.8 243.8 440.0 243.5C442.2 243.2 445.0 245.2 447.0 245.0C449.0 244.8 450.2 242.5 452.0 242.5C453.8 242.5 456.2 243.6 458.0 245.0C459.8 246.4 462.1 248.7 463.0 251.0C463.9 253.3 464.2 256.5 463.5 259.0C462.8 261.5 461.1 264.1 459.0 266.0C456.9 267.9 453.8 270.0 451.0 270.5C448.2 271.0 444.6 270.2 442.0 269.0C439.4 267.8 437.1 265.3 435.5 263.0C433.9 260.7 432.8 257.7 432.5 255.0C432.2 252.3 432.8 248.9 434.0 247.0Z" fill="#b3b7ba" stroke="#50545a" stroke-width="0.8"/>
<ellipse cx="433" cy="227" rx="1.6" ry="4.2" fill="#4a4e52" transform="rotate(10 433 227)" />
<ellipse cx="434.5" cy="240" rx="3.4" ry="2.2" fill="#44484c" transform="rotate(-20 434.5 240)" />
<ellipse cx="438.5" cy="245.5" rx="3" ry="1.8" fill="#484c50" transform="rotate(15 438.5 245.5)" />
<ellipse cx="440.5" cy="224" rx="1.4" ry="3" fill="#5a5e62" transform="rotate(-20 440.5 224)" />
<ellipse cx="462.8" cy="257" rx="1.4" ry="4.5" fill="#484c50" transform="rotate(-8 462.8 257)" />
<ellipse cx="452" cy="266.5" rx="4" ry="1.3" fill="#55595d" transform="rotate(-25 452 266.5)" />
<ellipse cx="438" cy="230.4" rx="2.6" ry="2.3" fill="#3c4044" />
<ellipse cx="436.2" cy="236" rx="2.2" ry="1.6" fill="#4a4e52" />
<ellipse cx="433.3" cy="244.5" rx="2.5" ry="1.8" fill="#44484c" />
<ellipse cx="461.5" cy="254.5" rx="2.2" ry="3" fill="#44484c" transform="rotate(-20 461.5 254.5)" />
<ellipse cx="454.5" cy="252.5" rx="2.2" ry="1.5" fill="#50545a" />
<ellipse cx="447" cy="258" rx="1.2" ry="3.2" fill="#5a5e62" transform="rotate(15 447 258)" />
<path d="M443.0 247.0C443.8 246.2 447.5 245.5 449.0 246.0C450.5 246.5 452.2 248.8 452.0 250.0C451.8 251.2 449.3 252.8 448.0 253.0C446.7 253.2 444.8 252.0 444.0 251.0C443.2 250.0 442.2 247.8 443.0 247.0Z" fill="#9a9ea1" />
<path d="M490.6 212.1m-0.4 0a0.4 0.4 0 1 0 0.8 0a0.4 0.4 0 1 0 -0.8 0M500.9 241.8m-0.5 0a0.5 0.5 0 1 0 0.9 0a0.5 0.5 0 1 0 -0.9 0M466.6 201.2m-0.6 0a0.6 0.6 0 1 0 1.2 0a0.6 0.6 0 1 0 -1.2 0M479.5 220.2m-0.5 0a0.5 0.5 0 1 0 1.1 0a0.5 0.5 0 1 0 -1.1 0M435.0 261.5m-0.6 0a0.6 0.6 0 1 0 1.2 0a0.6 0.6 0 1 0 -1.2 0M486.4 225.7m-0.5 0a0.5 0.5 0 1 0 1.0 0a0.5 0.5 0 1 0 -1.0 0M489.2 278.8m-0.7 0a0.7 0.7 0 1 0 1.5 0a0.7 0.7 0 1 0 -1.5 0M488.7 265.3m-0.7 0a0.7 0.7 0 1 0 1.4 0a0.7 0.7 0 1 0 -1.4 0M440.0 240.9m-0.5 0a0.5 0.5 0 1 0 1.1 0a0.5 0.5 0 1 0 -1.1 0M423.4 201.3m-0.5 0a0.5 0.5 0 1 0 1.0 0a0.5 0.5 0 1 0 -1.0 0M442.8 255.1m-0.8 0a0.8 0.8 0 1 0 1.6 0a0.8 0.8 0 1 0 -1.6 0M458.6 274.9m-0.8 0a0.8 0.8 0 1 0 1.6 0a0.8 0.8 0 1 0 -1.6 0M501.2 228.5m-0.5 0a0.5 0.5 0 1 0 1.0 0a0.5 0.5 0 1 0 -1.0 0M440.1 214.9m-0.5 0a0.5 0.5 0 1 0 1.0 0a0.5 0.5 0 1 0 -1.0 0M473.4 271.9m-0.7 0a0.7 0.7 0 1 0 1.5 0a0.7 0.7 0 1 0 -1.5 0M461.3 251.9m-0.7 0a0.7 0.7 0 1 0 1.4 0a0.7 0.7 0 1 0 -1.4 0M428.1 252.5m-0.8 0a0.8 0.8 0 1 0 1.5 0a0.8 0.8 0 1 0 -1.5 0M486.7 259.8m-0.6 0a0.6 0.6 0 1 0 1.2 0a0.6 0.6 0 1 0 -1.2 0M436.0 262.9m-0.5 0a0.5 0.5 0 1 0 1.1 0a0.5 0.5 0 1 0 -1.1 0M488.3 277.7m-0.6 0a0.6 0.6 0 1 0 1.1 0a0.6 0.6 0 1 0 -1.1 0M454.7 275.7m-0.7 0a0.7 0.7 0 1 0 1.4 0a0.7 0.7 0 1 0 -1.4 0M435.3 209.3m-0.5 0a0.5 0.5 0 1 0 0.9 0a0.5 0.5 0 1 0 -0.9 0M497.0 264.3m-0.5 0a0.5 0.5 0 1 0 0.9 0a0.5 0.5 0 1 0 -0.9 0M490.4 278.4m-0.7 0a0.7 0.7 0 1 0 1.3 0a0.7 0.7 0 1 0 -1.3 0M450.4 243.4m-0.5 0a0.5 0.5 0 1 0 0.9 0a0.5 0.5 0 1 0 -0.9 0M422.2 277.6m-0.7 0a0.7 0.7 0 1 0 1.3 0a0.7 0.7 0 1 0 -1.3 0M465.2 274.6m-0.6 0a0.6 0.6 0 1 0 1.1 0a0.6 0.6 0 1 0 -1.1 0M494.2 265.9m-0.5 0a0.5 0.5 0 1 0 1.0 0a0.5 0.5 0 1 0 -1.0 0M442.2 222.7m-0.5 0a0.5 0.5 0 1 0 1.0 0a0.5 0.5 0 1 0 -1.0 0M470.3 220.0m-0.6 0a0.6 0.6 0 1 0 1.1 0a0.6 0.6 0 1 0 -1.1 0M432.0 272.7m-0.5 0a0.5 0.5 0 1 0 1.1 0a0.5 0.5 0 1 0 -1.1 0M459.5 246.3m-0.8 0a0.8 0.8 0 1 0 1.5 0a0.8 0.8 0 1 0 -1.5 0M456.3 273.3m-0.6 0a0.6 0.6 0 1 0 1.2 0a0.6 0.6 0 1 0 -1.2 0M465.7 241.4m-0.4 0a0.4 0.4 0 1 0 0.8 0a0.4 0.4 0 1 0 -0.8 0M458.0 213.8m-0.4 0a0.4 0.4 0 1 0 0.8 0a0.4 0.4 0 1 0 -0.8 0M488.1 213.0m-0.6 0a0.6 0.6 0 1 0 1.2 0a0.6 0.6 0 1 0 -1.2 0M481.9 244.1m-0.5 0a0.5 0.5 0 1 0 1.1 0a0.5 0.5 0 1 0 -1.1 0M464.5 244.0m-0.7 0a0.7 0.7 0 1 0 1.4 0a0.7 0.7 0 1 0 -1.4 0M429.9 244.4m-0.5 0a0.5 0.5 0 1 0 1.0 0a0.5 0.5 0 1 0 -1.0 0M444.3 261.6m-0.6 0a0.6 0.6 0 1 0 1.2 0a0.6 0.6 0 1 0 -1.2 0M468.2 260.6m-0.8 0a0.8 0.8 0 1 0 1.5 0a0.8 0.8 0 1 0 -1.5 0M458.2 248.6m-0.6 0a0.6 0.6 0 1 0 1.2 0a0.6 0.6 0 1 0 -1.2 0M464.0 255.1m-0.6 0a0.6 0.6 0 1 0 1.2 0a0.6 0.6 0 1 0 -1.2 0M465.8 237.7m-0.8 0a0.8 0.8 0 1 0 1.6 0a0.8 0.8 0 1 0 -1.6 0M479.7 270.0m-0.8 0a0.8 0.8 0 1 0 1.6 0a0.8 0.8 0 1 0 -1.6 0M442.8 244.3m-0.8 0a0.8 0.8 0 1 0 1.6 0a0.8 0.8 0 1 0 -1.6 0M491.6 210.1m-0.4 0a0.4 0.4 0 1 0 0.9 0a0.4 0.4 0 1 0 -0.9 0M458.1 204.9m-0.5 0a0.5 0.5 0 1 0 1.0 0a0.5 0.5 0 1 0 -1.0 0M427.1 253.2m-0.7 0a0.7 0.7 0 1 0 1.4 0a0.7 0.7 0 1 0 -1.4 0M496.4 211.5m-0.7 0a0.7 0.7 0 1 0 1.4 0a0.7 0.7 0 1 0 -1.4 0M476.5 210.6m-0.8 0a0.8 0.8 0 1 0 1.5 0a0.8 0.8 0 1 0 -1.5 0M501.0 231.3m-0.6 0a0.6 0.6 0 1 0 1.2 0a0.6 0.6 0 1 0 -1.2 0M434.6 234.0m-0.6 0a0.6 0.6 0 1 0 1.2 0a0.6 0.6 0 1 0 -1.2 0M449.5 214.9m-0.5 0a0.5 0.5 0 1 0 1.1 0a0.5 0.5 0 1 0 -1.1 0M481.7 200.6m-0.6 0a0.6 0.6 0 1 0 1.2 0a0.6 0.6 0 1 0 -1.2 0M458.0 200.5m-0.5 0a0.5 0.5 0 1 0 1.1 0a0.5 0.5 0 1 0 -1.1 0M473.4 240.5m-0.4 0a0.4 0.4 0 1 0 0.9 0a0.4 0.4 0 1 0 -0.9 0M443.3 202.2m-0.7 0a0.7 0.7 0 1 0 1.4 0a0.7 0.7 0 1 0 -1.4 0M443.7 209.5m-0.6 0a0.6 0.6 0 1 0 1.1 0a0.6 0.6 0 1 0 -1.1 0M442.7 211.1m-0.8 0a0.8 0.8 0 1 0 1.5 0a0.8 0.8 0 1 0 -1.5 0M468.9 255.7m-0.4 0a0.4 0.4 0 1 0 0.9 0a0.4 0.4 0 1 0 -0.9 0M425.8 254.7m-0.6 0a0.6 0.6 0 1 0 1.1 0a0.6 0.6 0 1 0 -1.1 0M427.1 275.0m-0.7 0a0.7 0.7 0 1 0 1.3 0a0.7 0.7 0 1 0 -1.3 0M488.3 205.8m-0.7 0a0.7 0.7 0 1 0 1.5 0a0.7 0.7 0 1 0 -1.5 0M426.6 268.9m-0.6 0a0.6 0.6 0 1 0 1.2 0a0.6 0.6 0 1 0 -1.2 0M449.5 243.8m-0.8 0a0.8 0.8 0 1 0 1.5 0a0.8 0.8 0 1 0 -1.5 0M443.5 209.5m-0.6 0a0.6 0.6 0 1 0 1.2 0a0.6 0.6 0 1 0 -1.2 0M441.0 207.9m-0.5 0a0.5 0.5 0 1 0 0.9 0a0.5 0.5 0 1 0 -0.9 0M425.2 215.3m-0.5 0a0.5 0.5 0 1 0 1.0 0a0.5 0.5 0 1 0 -1.0 0M446.6 260.5m-0.5 0a0.5 0.5 0 1 0 1.0 0a0.5 0.5 0 1 0 -1.0 0M463.0 213.4m-0.5 0a0.5 0.5 0 1 0 1.1 0a0.5 0.5 0 1 0 -1.1 0M422.5 219.3m-0.4 0a0.4 0.4 0 1 0 0.8 0a0.4 0.4 0 1 0 -0.8 0M482.6 243.6m-0.5 0a0.5 0.5 0 1 0 1.0 0a0.5 0.5 0 1 0 -1.0 0M460.9 274.7m-0.4 0a0.4 0.4 0 1 0 0.9 0a0.4 0.4 0 1 0 -0.9 0M489.8 234.0m-0.6 0a0.6 0.6 0 1 0 1.2 0a0.6 0.6 0 1 0 -1.2 0M491.1 230.8m-0.6 0a0.6 0.6 0 1 0 1.2 0a0.6 0.6 0 1 0 -1.2 0M478.8 278.6m-0.5 0a0.5 0.5 0 1 0 1.1 0a0.5 0.5 0 1 0 -1.1 0M490.9 256.2m-0.7 0a0.7 0.7 0 1 0 1.3 0a0.7 0.7 0 1 0 -1.3 0M455.0 227.2m-0.4 0a0.4 0.4 0 1 0 0.8 0a0.4 0.4 0 1 0 -0.8 0M431.9 204.7m-0.7 0a0.7 0.7 0 1 0 1.4 0a0.7 0.7 0 1 0 -1.4 0M442.5 212.2m-0.4 0a0.4 0.4 0 1 0 0.9 0a0.4 0.4 0 1 0 -0.9 0M491.7 269.5m-0.7 0a0.7 0.7 0 1 0 1.3 0a0.7 0.7 0 1 0 -1.3 0M444.7 218.6m-0.5 0a0.5 0.5 0 1 0 1.0 0a0.5 0.5 0 1 0 -1.0 0M459.6 211.8m-0.6 0a0.6 0.6 0 1 0 1.2 0a0.6 0.6 0 1 0 -1.2 0M443.1 276.9m-0.8 0a0.8 0.8 0 1 0 1.6 0a0.8 0.8 0 1 0 -1.6 0M467.0 218.8m-0.8 0a0.8 0.8 0 1 0 1.6 0a0.8 0.8 0 1 0 -1.6 0M447.0 227.9m-0.4 0a0.4 0.4 0 1 0 0.8 0a0.4 0.4 0 1 0 -0.8 0M453.1 237.4m-0.6 0a0.6 0.6 0 1 0 1.2 0a0.6 0.6 0 1 0 -1.2 0M437.9 239.9m-0.4 0a0.4 0.4 0 1 0 0.8 0a0.4 0.4 0 1 0 -0.8 0M443.2 206.3m-0.6 0a0.6 0.6 0 1 0 1.1 0a0.6 0.6 0 1 0 -1.1 0M424.5 200.8m-0.5 0a0.5 0.5 0 1 0 1.0 0a0.5 0.5 0 1 0 -1.0 0M440.6 246.4m-0.6 0a0.6 0.6 0 1 0 1.2 0a0.6 0.6 0 1 0 -1.2 0M484.0 252.3m-0.7 0a0.7 0.7 0 1 0 1.4 0a0.7 0.7 0 1 0 -1.4 0M494.8 230.6m-0.5 0a0.5 0.5 0 1 0 1.1 0a0.5 0.5 0 1 0 -1.1 0M481.8 251.1m-0.4 0a0.4 0.4 0 1 0 0.8 0a0.4 0.4 0 1 0 -0.8 0M491.2 271.2m-0.7 0a0.7 0.7 0 1 0 1.3 0a0.7 0.7 0 1 0 -1.3 0M482.6 264.8m-0.5 0a0.5 0.5 0 1 0 0.9 0a0.5 0.5 0 1 0 -0.9 0M465.0 239.9m-0.7 0a0.7 0.7 0 1 0 1.5 0a0.7 0.7 0 1 0 -1.5 0M488.6 265.9m-0.6 0a0.6 0.6 0 1 0 1.3 0a0.6 0.6 0 1 0 -1.3 0M496.0 254.3m-0.7 0a0.7 0.7 0 1 0 1.4 0a0.7 0.7 0 1 0 -1.4 0M440.3 201.5m-0.5 0a0.5 0.5 0 1 0 0.9 0a0.5 0.5 0 1 0 -0.9 0M451.3 207.5m-0.7 0a0.7 0.7 0 1 0 1.5 0a0.7 0.7 0 1 0 -1.5 0M467.9 249.8m-0.7 0a0.7 0.7 0 1 0 1.3 0a0.7 0.7 0 1 0 -1.3 0M478.2 238.6m-0.4 0a0.4 0.4 0 1 0 0.8 0a0.4 0.4 0 1 0 -0.8 0M488.0 259.6m-0.6 0a0.6 0.6 0 1 0 1.2 0a0.6 0.6 0 1 0 -1.2 0M466.0 252.4m-0.4 0a0.4 0.4 0 1 0 0.9 0a0.4 0.4 0 1 0 -0.9 0M482.9 219.4m-0.4 0a0.4 0.4 0 1 0 0.9 0a0.4 0.4 0 1 0 -0.9 0M443.3 258.1m-0.5 0a0.5 0.5 0 1 0 1.0 0a0.5 0.5 0 1 0 -1.0 0M483.1 278.0m-0.6 0a0.6 0.6 0 1 0 1.2 0a0.6 0.6 0 1 0 -1.2 0M453.1 237.8m-0.7 0a0.7 0.7 0 1 0 1.3 0a0.7 0.7 0 1 0 -1.3 0M485.4 249.0m-0.7 0a0.7 0.7 0 1 0 1.3 0a0.7 0.7 0 1 0 -1.3 0M427.5 210.9m-0.5 0a0.5 0.5 0 1 0 1.0 0a0.5 0.5 0 1 0 -1.0 0M483.4 223.7m-0.6 0a0.6 0.6 0 1 0 1.3 0a0.6 0.6 0 1 0 -1.3 0M422.0 203.9m-0.5 0a0.5 0.5 0 1 0 1.0 0a0.5 0.5 0 1 0 -1.0 0M477.4 255.1m-0.7 0a0.7 0.7 0 1 0 1.3 0a0.7 0.7 0 1 0 -1.3 0M445.4 240.8m-0.6 0a0.6 0.6 0 1 0 1.2 0a0.6 0.6 0 1 0 -1.2 0M460.2 208.6m-0.8 0a0.8 0.8 0 1 0 1.5 0a0.8 0.8 0 1 0 -1.5 0M437.7 278.2m-0.8 0a0.8 0.8 0 1 0 1.5 0a0.8 0.8 0 1 0 -1.5 0M422.5 236.2m-0.7 0a0.7 0.7 0 1 0 1.5 0a0.7 0.7 0 1 0 -1.5 0M502.3 235.4m-0.5 0a0.5 0.5 0 1 0 1.0 0a0.5 0.5 0 1 0 -1.0 0M438.6 275.6m-0.5 0a0.5 0.5 0 1 0 1.0 0a0.5 0.5 0 1 0 -1.0 0M469.8 210.5m-0.6 0a0.6 0.6 0 1 0 1.2 0a0.6 0.6 0 1 0 -1.2 0M489.9 240.2m-0.8 0a0.8 0.8 0 1 0 1.5 0a0.8 0.8 0 1 0 -1.5 0M480.1 217.7m-0.8 0a0.8 0.8 0 1 0 1.5 0a0.8 0.8 0 1 0 -1.5 0M461.8 201.0m-0.4 0a0.4 0.4 0 1 0 0.8 0a0.4 0.4 0 1 0 -0.8 0M462.3 235.5m-0.5 0a0.5 0.5 0 1 0 1.0 0a0.5 0.5 0 1 0 -1.0 0M432.8 226.9m-0.5 0a0.5 0.5 0 1 0 1.1 0a0.5 0.5 0 1 0 -1.1 0M491.6 199.1m-0.7 0a0.7 0.7 0 1 0 1.4 0a0.7 0.7 0 1 0 -1.4 0M491.5 208.7m-0.8 0a0.8 0.8 0 1 0 1.5 0a0.8 0.8 0 1 0 -1.5 0M480.9 272.0m-0.5 0a0.5 0.5 0 1 0 1.0 0a0.5 0.5 0 1 0 -1.0 0M452.3 230.8m-0.8 0a0.8 0.8 0 1 0 1.6 0a0.8 0.8 0 1 0 -1.6 0M470.5 228.2m-0.6 0a0.6 0.6 0 1 0 1.1 0a0.6 0.6 0 1 0 -1.1 0M444.1 202.9m-0.4 0a0.4 0.4 0 1 0 0.9 0a0.4 0.4 0 1 0 -0.9 0M491.1 222.1m-0.8 0a0.8 0.8 0 1 0 1.5 0a0.8 0.8 0 1 0 -1.5 0M441.9 220.5m-0.6 0a0.6 0.6 0 1 0 1.2 0a0.6 0.6 0 1 0 -1.2 0M436.9 229.2m-0.8 0a0.8 0.8 0 1 0 1.6 0a0.8 0.8 0 1 0 -1.6 0M495.3 264.8m-0.7 0a0.7 0.7 0 1 0 1.3 0a0.7 0.7 0 1 0 -1.3 0M467.1 257.3m-0.4 0a0.4 0.4 0 1 0 0.8 0a0.4 0.4 0 1 0 -0.8 0M482.5 235.5m-0.7 0a0.7 0.7 0 1 0 1.4 0a0.7 0.7 0 1 0 -1.4 0M475.1 222.2m-0.4 0a0.4 0.4 0 1 0 0.8 0a0.4 0.4 0 1 0 -0.8 0M460.7 226.8m-0.5 0a0.5 0.5 0 1 0 1.0 0a0.5 0.5 0 1 0 -1.0 0M483.1 278.1m-0.5 0a0.5 0.5 0 1 0 1.0 0a0.5 0.5 0 1 0 -1.0 0M476.1 223.4m-0.6 0a0.6 0.6 0 1 0 1.2 0a0.6 0.6 0 1 0 -1.2 0M454.1 212.6m-0.5 0a0.5 0.5 0 1 0 0.9 0a0.5 0.5 0 1 0 -0.9 0M438.5 272.4m-0.6 0a0.6 0.6 0 1 0 1.2 0a0.6 0.6 0 1 0 -1.2 0M439.5 272.4m-0.8 0a0.8 0.8 0 1 0 1.6 0a0.8 0.8 0 1 0 -1.6 0M458.8 210.3m-0.5 0a0.5 0.5 0 1 0 1.0 0a0.5 0.5 0 1 0 -1.0 0M428.6 226.7m-0.4 0a0.4 0.4 0 1 0 0.9 0a0.4 0.4 0 1 0 -0.9 0M441.1 219.9m-0.6 0a0.6 0.6 0 1 0 1.3 0a0.6 0.6 0 1 0 -1.3 0M495.5 259.7m-0.6 0a0.6 0.6 0 1 0 1.1 0a0.6 0.6 0 1 0 -1.1 0M455.8 241.5m-0.6 0a0.6 0.6 0 1 0 1.1 0a0.6 0.6 0 1 0 -1.1 0M449.4 204.0m-0.5 0a0.5 0.5 0 1 0 1.0 0a0.5 0.5 0 1 0 -1.0 0M463.3 250.0m-0.7 0a0.7 0.7 0 1 0 1.5 0a0.7 0.7 0 1 0 -1.5 0M439.1 221.0m-0.5 0a0.5 0.5 0 1 0 1.0 0a0.5 0.5 0 1 0 -1.0 0M454.6 235.1m-0.8 0a0.8 0.8 0 1 0 1.6 0a0.8 0.8 0 1 0 -1.6 0M492.3 269.7m-0.4 0a0.4 0.4 0 1 0 0.8 0a0.4 0.4 0 1 0 -0.8 0M423.7 256.5m-0.8 0a0.8 0.8 0 1 0 1.5 0a0.8 0.8 0 1 0 -1.5 0M460.8 246.6m-0.4 0a0.4 0.4 0 1 0 0.8 0a0.4 0.4 0 1 0 -0.8 0M453.9 274.1m-0.7 0a0.7 0.7 0 1 0 1.5 0a0.7 0.7 0 1 0 -1.5 0M492.9 277.8m-0.5 0a0.5 0.5 0 1 0 1.0 0a0.5 0.5 0 1 0 -1.0 0M430.2 211.5m-0.6 0a0.6 0.6 0 1 0 1.2 0a0.6 0.6 0 1 0 -1.2 0M478.3 275.3m-0.7 0a0.7 0.7 0 1 0 1.4 0a0.7 0.7 0 1 0 -1.4 0M475.4 260.9m-0.6 0a0.6 0.6 0 1 0 1.2 0a0.6 0.6 0 1 0 -1.2 0M467.3 202.2m-0.7 0a0.7 0.7 0 1 0 1.4 0a0.7 0.7 0 1 0 -1.4 0M440.5 273.5m-0.7 0a0.7 0.7 0 1 0 1.3 0a0.7 0.7 0 1 0 -1.3 0M446.5 209.4m-0.5 0a0.5 0.5 0 1 0 1.0 0a0.5 0.5 0 1 0 -1.0 0M474.4 255.6m-0.4 0a0.4 0.4 0 1 0 0.9 0a0.4 0.4 0 1 0 -0.9 0M426.9 241.5m-0.6 0a0.6 0.6 0 1 0 1.3 0a0.6 0.6 0 1 0 -1.3 0M453.6 217.1m-0.6 0a0.6 0.6 0 1 0 1.3 0a0.6 0.6 0 1 0 -1.3 0M421.9 223.4m-0.6 0a0.6 0.6 0 1 0 1.2 0a0.6 0.6 0 1 0 -1.2 0M495.2 237.5m-0.5 0a0.5 0.5 0 1 0 1.0 0a0.5 0.5 0 1 0 -1.0 0M441.8 276.8m-0.7 0a0.7 0.7 0 1 0 1.4 0a0.7 0.7 0 1 0 -1.4 0M446.8 200.8m-0.6 0a0.6 0.6 0 1 0 1.2 0a0.6 0.6 0 1 0 -1.2 0M477.7 233.0m-0.5 0a0.5 0.5 0 1 0 1.0 0a0.5 0.5 0 1 0 -1.0 0M477.1 273.9m-0.5 0a0.5 0.5 0 1 0 1.0 0a0.5 0.5 0 1 0 -1.0 0M423.9 226.4m-0.6 0a0.6 0.6 0 1 0 1.1 0a0.6 0.6 0 1 0 -1.1 0M478.3 215.0m-0.7 0a0.7 0.7 0 1 0 1.4 0a0.7 0.7 0 1 0 -1.4 0M483.1 239.9m-0.5 0a0.5 0.5 0 1 0 1.0 0a0.5 0.5 0 1 0 -1.0 0M489.9 217.7m-0.5 0a0.5 0.5 0 1 0 1.0 0a0.5 0.5 0 1 0 -1.0 0M484.9 222.9m-0.8 0a0.8 0.8 0 1 0 1.6 0a0.8 0.8 0 1 0 -1.6 0M462.6 214.2m-0.5 0a0.5 0.5 0 1 0 1.0 0a0.5 0.5 0 1 0 -1.0 0M456.0 252.9m-0.8 0a0.8 0.8 0 1 0 1.6 0a0.8 0.8 0 1 0 -1.6 0M433.3 230.9m-0.5 0a0.5 0.5 0 1 0 1.0 0a0.5 0.5 0 1 0 -1.0 0M425.4 203.9m-0.6 0a0.6 0.6 0 1 0 1.1 0a0.6 0.6 0 1 0 -1.1 0M482.5 279.8m-0.8 0a0.8 0.8 0 1 0 1.5 0a0.8 0.8 0 1 0 -1.5 0M448.7 214.0m-0.8 0a0.8 0.8 0 1 0 1.5 0a0.8 0.8 0 1 0 -1.5 0M483.7 201.6m-0.7 0a0.7 0.7 0 1 0 1.3 0a0.7 0.7 0 1 0 -1.3 0M452.8 229.3m-0.5 0a0.5 0.5 0 1 0 1.1 0a0.5 0.5 0 1 0 -1.1 0M435.2 199.2m-0.5 0a0.5 0.5 0 1 0 1.0 0a0.5 0.5 0 1 0 -1.0 0M450.5 276.4m-0.4 0a0.4 0.4 0 1 0 0.9 0a0.4 0.4 0 1 0 -0.9 0M451.0 265.5m-0.7 0a0.7 0.7 0 1 0 1.5 0a0.7 0.7 0 1 0 -1.5 0M457.3 203.0m-0.6 0a0.6 0.6 0 1 0 1.2 0a0.6 0.6 0 1 0 -1.2 0M452.3 273.5m-0.5 0a0.5 0.5 0 1 0 1.0 0a0.5 0.5 0 1 0 -1.0 0M451.6 271.7m-0.4 0a0.4 0.4 0 1 0 0.8 0a0.4 0.4 0 1 0 -0.8 0M455.5 264.8m-0.7 0a0.7 0.7 0 1 0 1.4 0a0.7 0.7 0 1 0 -1.4 0M424.4 201.8m-0.4 0a0.4 0.4 0 1 0 0.9 0a0.4 0.4 0 1 0 -0.9 0M498.3 219.8m-0.7 0a0.7 0.7 0 1 0 1.4 0a0.7 0.7 0 1 0 -1.4 0M496.5 226.5m-0.5 0a0.5 0.5 0 1 0 1.0 0a0.5 0.5 0 1 0 -1.0 0M501.4 249.0m-0.5 0a0.5 0.5 0 1 0 1.0 0a0.5 0.5 0 1 0 -1.0 0M481.2 224.6m-0.5 0a0.5 0.5 0 1 0 1.0 0a0.5 0.5 0 1 0 -1.0 0M421.3 260.2m-0.8 0a0.8 0.8 0 1 0 1.5 0a0.8 0.8 0 1 0 -1.5 0M474.3 275.4m-0.4 0a0.4 0.4 0 1 0 0.8 0a0.4 0.4 0 1 0 -0.8 0M440.6 237.5m-0.8 0a0.8 0.8 0 1 0 1.6 0a0.8 0.8 0 1 0 -1.6 0M501.1 230.3m-0.5 0a0.5 0.5 0 1 0 1.0 0a0.5 0.5 0 1 0 -1.0 0M457.1 239.0m-0.8 0a0.8 0.8 0 1 0 1.5 0a0.8 0.8 0 1 0 -1.5 0M436.4 264.0m-0.7 0a0.7 0.7 0 1 0 1.4 0a0.7 0.7 0 1 0 -1.4 0M490.1 261.6m-0.6 0a0.6 0.6 0 1 0 1.3 0a0.6 0.6 0 1 0 -1.3 0M448.5 224.9m-0.5 0a0.5 0.5 0 1 0 1.1 0a0.5 0.5 0 1 0 -1.1 0M486.7 205.4m-0.5 0a0.5 0.5 0 1 0 1.0 0a0.5 0.5 0 1 0 -1.0 0M484.2 219.0m-0.4 0a0.4 0.4 0 1 0 0.9 0a0.4 0.4 0 1 0 -0.9 0M423.8 243.8m-0.5 0a0.5 0.5 0 1 0 1.1 0a0.5 0.5 0 1 0 -1.1 0M428.1 206.8m-0.6 0a0.6 0.6 0 1 0 1.2 0a0.6 0.6 0 1 0 -1.2 0M480.6 235.2m-0.5 0a0.5 0.5 0 1 0 1.0 0a0.5 0.5 0 1 0 -1.0 0M456.0 249.2m-0.7 0a0.7 0.7 0 1 0 1.3 0a0.7 0.7 0 1 0 -1.3 0M483.8 267.6m-0.7 0a0.7 0.7 0 1 0 1.3 0a0.7 0.7 0 1 0 -1.3 0M431.2 267.1m-0.5 0a0.5 0.5 0 1 0 1.0 0a0.5 0.5 0 1 0 -1.0 0M468.6 229.2m-0.7 0a0.7 0.7 0 1 0 1.4 0a0.7 0.7 0 1 0 -1.4 0M437.7 219.0m-0.5 0a0.5 0.5 0 1 0 1.0 0a0.5 0.5 0 1 0 -1.0 0M433.9 270.6m-0.6 0a0.6 0.6 0 1 0 1.3 0a0.6 0.6 0 1 0 -1.3 0M448.4 231.1m-0.8 0a0.8 0.8 0 1 0 1.6 0a0.8 0.8 0 1 0 -1.6 0M463.6 217.7m-0.7 0a0.7 0.7 0 1 0 1.4 0a0.7 0.7 0 1 0 -1.4 0M475.9 279.3m-0.4 0a0.4 0.4 0 1 0 0.9 0a0.4 0.4 0 1 0 -0.9 0M460.9 265.3m-0.7 0a0.7 0.7 0 1 0 1.5 0a0.7 0.7 0 1 0 -1.5 0M445.7 208.7m-0.5 0a0.5 0.5 0 1 0 1.0 0a0.5 0.5 0 1 0 -1.0 0M499.1 229.2m-0.7 0a0.7 0.7 0 1 0 1.5 0a0.7 0.7 0 1 0 -1.5 0M458.7 220.1m-0.7 0a0.7 0.7 0 1 0 1.4 0a0.7 0.7 0 1 0 -1.4 0M471.1 249.2m-0.5 0a0.5 0.5 0 1 0 1.0 0a0.5 0.5 0 1 0 -1.0 0M452.0 210.5m-0.5 0a0.5 0.5 0 1 0 1.0 0a0.5 0.5 0 1 0 -1.0 0M442.4 247.6m-0.7 0a0.7 0.7 0 1 0 1.3 0a0.7 0.7 0 1 0 -1.3 0M438.1 199.9m-0.5 0a0.5 0.5 0 1 0 1.1 0a0.5 0.5 0 1 0 -1.1 0M478.0 214.0m-0.5 0a0.5 0.5 0 1 0 1.0 0a0.5 0.5 0 1 0 -1.0 0M438.1 263.4m-0.6 0a0.6 0.6 0 1 0 1.2 0a0.6 0.6 0 1 0 -1.2 0M426.3 207.2m-0.6 0a0.6 0.6 0 1 0 1.1 0a0.6 0.6 0 1 0 -1.1 0M467.2 250.8m-0.4 0a0.4 0.4 0 1 0 0.9 0a0.4 0.4 0 1 0 -0.9 0M434.7 255.3m-0.6 0a0.6 0.6 0 1 0 1.1 0a0.6 0.6 0 1 0 -1.1 0M444.8 223.9m-0.8 0a0.8 0.8 0 1 0 1.6 0a0.8 0.8 0 1 0 -1.6 0M447.2 244.9m-0.5 0a0.5 0.5 0 1 0 1.1 0a0.5 0.5 0 1 0 -1.1 0M456.0 269.0m-0.8 0a0.8 0.8 0 1 0 1.6 0a0.8 0.8 0 1 0 -1.6 0M451.6 215.0m-0.7 0a0.7 0.7 0 1 0 1.4 0a0.7 0.7 0 1 0 -1.4 0" fill="#70747a"/>
</g>
<path d="M423 278.2H427.5" stroke="#000" stroke-width="1.3"/>
</g>
<g clip-path="url(#cBL)"><g filter="url(#tex2)">
<rect x="320" y="280" width="102" height="90" fill="#878b8e"/>
<path d="M398.0 280.0C401.8 278.0 418.0 273.0 422.0 280.0C426.0 287.0 423.7 316.7 422.0 322.0C420.3 327.3 415.3 315.3 412.0 312.0C408.7 308.7 404.2 305.3 402.0 302.0C399.8 298.7 399.7 295.7 399.0 292.0C398.3 288.3 394.2 282.0 398.0 280.0Z" fill="#8f9396" />
<path d="M352.0 280.0C355.1 278.7 370.6 279.1 374.0 280.0C377.4 280.9 373.7 283.9 372.5 285.5C371.3 287.1 368.9 288.5 367.0 289.5C365.1 290.5 362.9 291.8 361.0 291.5C359.1 291.2 357.0 289.9 355.5 288.0C354.0 286.1 348.9 281.3 352.0 280.0Z" fill="#4e5256" />
<ellipse cx="373" cy="288" rx="1.6" ry="1.2" fill="#44484c" />
<ellipse cx="372" cy="292.5" rx="1.4" ry="1.1" fill="#44484c" />
<ellipse cx="385.5" cy="296.6" rx="2" ry="1.4" fill="#3f4347" />
<path d="M379.0 280.0C380.1 279.0 384.1 278.3 385.0 280.0C385.9 281.7 385.0 287.6 384.5 290.0C384.0 292.4 382.9 294.2 382.0 294.5C381.1 294.8 379.6 293.4 379.0 292.0C378.4 290.6 378.5 288.0 378.5 286.0C378.5 284.0 377.9 281.0 379.0 280.0Z" fill="#43474b" />
<path d="M389.5 280.0C390.9 278.7 397.2 278.3 399.0 280.0C400.8 281.7 400.0 287.0 400.0 290.0C400.0 293.0 399.7 296.3 399.0 298.0C398.3 299.7 397.1 300.3 396.0 300.0C394.9 299.7 393.4 298.0 392.5 296.0C391.6 294.0 391.0 290.7 390.5 288.0C390.0 285.3 388.1 281.3 389.5 280.0Z" fill="#41454a" />
<path d="M396.5 299C401 305 408 311 417.5 319" stroke="#3f4347" stroke-width="1.8" fill="none"/>
<path d="M366 291C374 296 384 297 393 296" stroke="#4a4e52" stroke-width="1.1" fill="none" opacity="0.45"/>
<ellipse cx="373" cy="286" rx="1.5" ry="3" fill="#44484c" transform="rotate(20 373 286)" />
<path d="M320.7 288.2Q324.6 293.1 326.4 299.0M326.4 299.0Q326.0 299.9 325.4 300.5M421.9 352.3Q422.2 356.7 421.7 361.0M421.7 361.0Q417.6 365.0 415.5 370.4M320.7 288.2Q322.0 282.3 326.4 278.2M336.6 297.9Q335.2 289.2 334.4 280.6M336.6 297.9Q339.0 299.3 341.9 299.6M341.9 299.6Q342.8 299.1 343.8 299.0M343.8 299.0Q343.3 289.4 348.4 281.2M334.4 280.6Q338.6 278.5 343.3 278.1M348.4 281.2Q345.4 280.4 343.3 278.1M326.4 299.0Q331.6 299.6 336.6 297.9M326.4 278.2Q330.7 278.4 334.4 280.6M328.6 328.0Q330.7 328.0 332.7 328.8M328.6 328.0Q328.2 321.2 325.0 315.2M332.7 328.8Q337.8 323.2 340.0 315.9M325.0 315.2Q325.4 314.7 325.8 314.2M325.8 314.2Q332.4 316.4 339.1 314.6M339.1 314.6Q339.8 315.1 340.0 315.9M323.1 331.5Q326.4 330.7 328.6 328.0M325.4 300.5Q325.2 307.4 325.8 314.2M341.9 299.6Q341.6 307.3 339.1 314.6M323.1 331.5Q321.2 337.7 322.3 344.1M409.8 368.4Q409.0 363.3 407.0 358.5M407.0 358.5Q399.3 358.0 393.0 362.5M376.5 362.5Q377.5 360.8 379.3 360.0M393.0 362.5Q391.6 361.4 390.1 360.6M379.3 360.0Q384.7 360.1 390.1 360.6M410.0 350.5Q413.1 350.1 416.0 349.0M410.0 350.5Q409.0 350.1 408.2 349.4M408.2 349.4Q400.2 341.9 398.3 331.1M416.0 349.0Q418.1 341.7 419.7 334.3M419.7 334.3Q419.2 333.7 418.9 333.0M418.9 333.0Q409.3 329.1 399.1 330.8M398.3 331.1Q398.7 330.9 399.1 330.8M421.9 352.3Q418.8 350.8 416.0 349.0M407.0 358.5Q408.9 354.6 410.0 350.5M390.1 360.6Q392.9 355.2 395.5 349.8M395.5 349.8Q401.9 351.7 408.2 349.4M419.5 319.3Q417.8 326.0 418.9 333.0M413.6 313.8Q406.4 322.3 399.1 330.8M392.2 314.9Q396.4 322.4 397.2 330.9M392.2 314.9Q394.3 312.9 396.1 310.7M396.1 310.7Q398.1 310.5 399.9 309.5M397.2 330.9Q397.8 331.1 398.3 331.1M399.9 309.5Q406.0 314.1 413.6 313.8M350.7 321.5Q344.8 319.8 340.0 315.9M350.7 321.5Q353.7 317.8 357.0 314.5M343.8 299.0Q348.5 300.1 353.2 301.7M353.2 301.7Q355.9 307.9 357.0 314.5M370.7 320.8Q374.1 319.8 377.6 319.5M370.7 320.8Q369.2 325.5 367.6 330.1M377.6 319.5Q381.1 326.6 385.1 333.5M385.1 333.5Q376.0 333.3 367.6 330.1M346.6 369.7Q349.7 363.5 355.4 359.6M366.7 363.2Q364.0 361.6 362.0 359.3M362.0 359.3Q358.7 360.3 355.4 359.6M376.5 362.5Q371.6 363.5 366.7 363.2M341.5 351.5Q347.9 356.5 355.4 359.6M322.3 344.1Q327.5 344.3 332.6 343.8M341.5 351.5Q341.5 351.5 341.5 351.5M332.6 343.8Q336.9 347.8 341.5 351.5M332.7 328.8Q334.5 330.6 336.5 332.2M332.6 343.8Q335.2 338.2 336.5 332.2M353.2 301.7Q359.0 299.0 363.7 294.5M357.0 314.5Q360.7 315.2 364.5 315.2M364.5 315.2Q368.7 308.6 372.1 301.5M363.7 294.5Q367.7 298.3 372.1 301.5M382.7 314.0Q380.4 317.0 377.6 319.5M382.7 314.0Q381.5 307.5 377.9 302.0M370.7 320.8Q367.8 317.8 364.5 315.2M377.9 302.0Q375.0 302.2 372.1 301.5M391.8 345.2Q386.5 350.6 379.6 353.7M391.8 345.2Q389.6 340.0 390.8 334.5M390.8 334.5Q388.4 334.7 385.9 334.4M385.9 334.4Q382.9 340.6 376.7 343.5M379.6 353.7Q376.9 349.0 376.7 343.5M379.3 360.0Q378.4 356.8 379.6 353.7M395.5 349.8Q393.3 347.8 391.8 345.2M397.2 330.9Q394.2 333.1 390.8 334.5M392.2 314.9Q387.4 314.1 382.7 314.0M385.1 333.5Q385.4 334.0 385.9 334.4M361.5 348.2Q356.3 343.7 350.4 340.2M361.5 348.2Q364.7 343.7 369.6 341.2M369.6 341.2Q369.2 336.1 366.2 331.9M366.2 331.9Q358.5 330.4 350.8 331.5M350.4 340.2Q350.3 336.3 350.2 332.4M350.8 331.5Q350.5 331.9 350.2 332.4M362.0 359.3Q361.8 353.7 361.5 348.2M341.5 351.5Q344.6 344.8 350.4 340.2M376.7 343.5Q373.2 342.0 369.6 341.2M367.6 330.1Q366.6 330.8 366.2 331.9M350.7 321.5Q349.8 326.5 350.8 331.5M336.5 332.2Q343.4 330.7 350.2 332.4M399.9 309.5Q399.8 304.9 402.0 300.7M348.4 281.2Q350.4 281.5 352.1 280.7M382.8 297.3Q385.9 297.4 388.6 295.8M377.9 302.0Q380.8 300.1 382.8 297.3M396.1 310.7Q393.7 302.5 388.6 295.8M402.0 300.7Q394.7 299.9 388.7 295.7" stroke="#b0b4b7" stroke-width="1.2" fill="none" opacity="0.65" stroke-linecap="round"/>
<path d="M328.4 292.5m-0.5 0a0.5 0.5 0 1 0 1.0 0a0.5 0.5 0 1 0 -1.0 0M326.1 289.5m-0.9 0a0.9 0.9 0 1 0 1.8 0a0.9 0.9 0 1 0 -1.8 0M332.2 290.4m-0.6 0a0.6 0.6 0 1 0 1.2 0a0.6 0.6 0 1 0 -1.2 0M329.3 286.5m-0.7 0a0.7 0.7 0 1 0 1.3 0a0.7 0.7 0 1 0 -1.3 0M334.0 286.8m-0.6 0a0.6 0.6 0 1 0 1.2 0a0.6 0.6 0 1 0 -1.2 0M331.8 310.5m-0.6 0a0.6 0.6 0 1 0 1.2 0a0.6 0.6 0 1 0 -1.2 0M331.3 305.8m-0.6 0a0.6 0.6 0 1 0 1.2 0a0.6 0.6 0 1 0 -1.2 0M337.0 304.7m-0.6 0a0.6 0.6 0 1 0 1.1 0a0.6 0.6 0 1 0 -1.1 0M327.5 314.0m-0.5 0a0.5 0.5 0 1 0 1.0 0a0.5 0.5 0 1 0 -1.0 0M327.8 312.0m-0.6 0a0.6 0.6 0 1 0 1.2 0a0.6 0.6 0 1 0 -1.2 0M326.9 306.6m-0.5 0a0.5 0.5 0 1 0 1.0 0a0.5 0.5 0 1 0 -1.0 0M330.0 311.3m-0.7 0a0.7 0.7 0 1 0 1.5 0a0.7 0.7 0 1 0 -1.5 0M337.3 310.5m-0.6 0a0.6 0.6 0 1 0 1.1 0a0.6 0.6 0 1 0 -1.1 0M333.5 307.7m-0.5 0a0.5 0.5 0 1 0 1.0 0a0.5 0.5 0 1 0 -1.0 0M331.5 308.0m-0.6 0a0.6 0.6 0 1 0 1.2 0a0.6 0.6 0 1 0 -1.2 0M332.0 317.1m-0.9 0a0.9 0.9 0 1 0 1.8 0a0.9 0.9 0 1 0 -1.8 0M335.0 322.3m-0.5 0a0.5 0.5 0 1 0 1.0 0a0.5 0.5 0 1 0 -1.0 0M335.3 318.2m-0.7 0a0.7 0.7 0 1 0 1.4 0a0.7 0.7 0 1 0 -1.4 0M333.6 321.9m-0.8 0a0.8 0.8 0 1 0 1.6 0a0.8 0.8 0 1 0 -1.6 0M331.5 340.2m-0.7 0a0.7 0.7 0 1 0 1.4 0a0.7 0.7 0 1 0 -1.4 0M328.7 333.3m-0.5 0a0.5 0.5 0 1 0 1.0 0a0.5 0.5 0 1 0 -1.0 0M334.1 336.8m-0.8 0a0.8 0.8 0 1 0 1.7 0a0.8 0.8 0 1 0 -1.7 0M335.0 337.2m-0.9 0a0.9 0.9 0 1 0 1.8 0a0.9 0.9 0 1 0 -1.8 0M329.2 339.4m-0.6 0a0.6 0.6 0 1 0 1.2 0a0.6 0.6 0 1 0 -1.2 0M332.5 343.3m-0.8 0a0.8 0.8 0 1 0 1.6 0a0.8 0.8 0 1 0 -1.6 0M330.0 344.7m-0.9 0a0.9 0.9 0 1 0 1.8 0a0.9 0.9 0 1 0 -1.8 0M336.5 285.1m-0.6 0a0.6 0.6 0 1 0 1.2 0a0.6 0.6 0 1 0 -1.2 0M346.5 289.7m-0.7 0a0.7 0.7 0 1 0 1.4 0a0.7 0.7 0 1 0 -1.4 0M336.5 291.0m-0.7 0a0.7 0.7 0 1 0 1.3 0a0.7 0.7 0 1 0 -1.3 0M338.8 285.9m-0.7 0a0.7 0.7 0 1 0 1.4 0a0.7 0.7 0 1 0 -1.4 0M339.5 291.4m-0.9 0a0.9 0.9 0 1 0 1.8 0a0.9 0.9 0 1 0 -1.8 0M338.4 292.2m-0.5 0a0.5 0.5 0 1 0 1.1 0a0.5 0.5 0 1 0 -1.1 0M340.5 289.4m-0.7 0a0.7 0.7 0 1 0 1.3 0a0.7 0.7 0 1 0 -1.3 0M338.7 293.2m-0.8 0a0.8 0.8 0 1 0 1.7 0a0.8 0.8 0 1 0 -1.7 0M339.1 283.4m-0.5 0a0.5 0.5 0 1 0 1.0 0a0.5 0.5 0 1 0 -1.0 0M335.7 289.4m-0.8 0a0.8 0.8 0 1 0 1.6 0a0.8 0.8 0 1 0 -1.6 0M342.2 310.1m-0.9 0a0.9 0.9 0 1 0 1.8 0a0.9 0.9 0 1 0 -1.8 0M345.9 314.5m-0.5 0a0.5 0.5 0 1 0 1.1 0a0.5 0.5 0 1 0 -1.1 0M345.6 314.0m-0.9 0a0.9 0.9 0 1 0 1.8 0a0.9 0.9 0 1 0 -1.8 0M349.6 310.8m-0.7 0a0.7 0.7 0 1 0 1.3 0a0.7 0.7 0 1 0 -1.3 0M346.1 314.5m-0.8 0a0.8 0.8 0 1 0 1.7 0a0.8 0.8 0 1 0 -1.7 0M349.2 304.7m-0.6 0a0.6 0.6 0 1 0 1.2 0a0.6 0.6 0 1 0 -1.2 0M349.4 314.0m-0.7 0a0.7 0.7 0 1 0 1.4 0a0.7 0.7 0 1 0 -1.4 0M345.1 309.0m-0.5 0a0.5 0.5 0 1 0 1.0 0a0.5 0.5 0 1 0 -1.0 0M349.0 307.6m-0.7 0a0.7 0.7 0 1 0 1.4 0a0.7 0.7 0 1 0 -1.4 0M339.1 326.8m-0.5 0a0.5 0.5 0 1 0 1.0 0a0.5 0.5 0 1 0 -1.0 0M342.3 322.6m-0.8 0a0.8 0.8 0 1 0 1.7 0a0.8 0.8 0 1 0 -1.7 0M343.3 326.0m-0.7 0a0.7 0.7 0 1 0 1.4 0a0.7 0.7 0 1 0 -1.4 0M339.2 325.7m-0.7 0a0.7 0.7 0 1 0 1.4 0a0.7 0.7 0 1 0 -1.4 0M340.4 328.6m-0.6 0a0.6 0.6 0 1 0 1.2 0a0.6 0.6 0 1 0 -1.2 0M342.6 323.2m-0.7 0a0.7 0.7 0 1 0 1.5 0a0.7 0.7 0 1 0 -1.5 0M343.7 319.7m-0.6 0a0.6 0.6 0 1 0 1.1 0a0.6 0.6 0 1 0 -1.1 0M337.4 328.8m-0.7 0a0.7 0.7 0 1 0 1.5 0a0.7 0.7 0 1 0 -1.5 0M342.8 323.2m-0.6 0a0.6 0.6 0 1 0 1.2 0a0.6 0.6 0 1 0 -1.2 0M341.1 327.2m-0.6 0a0.6 0.6 0 1 0 1.2 0a0.6 0.6 0 1 0 -1.2 0M338.6 336.7m-0.8 0a0.8 0.8 0 1 0 1.6 0a0.8 0.8 0 1 0 -1.6 0M335.0 340.5m-0.8 0a0.8 0.8 0 1 0 1.7 0a0.8 0.8 0 1 0 -1.7 0M342.0 341.7m-0.7 0a0.7 0.7 0 1 0 1.4 0a0.7 0.7 0 1 0 -1.4 0M336.1 335.2m-0.9 0a0.9 0.9 0 1 0 1.9 0a0.9 0.9 0 1 0 -1.9 0M343.9 334.2m-0.9 0a0.9 0.9 0 1 0 1.8 0a0.9 0.9 0 1 0 -1.8 0M345.1 337.3m-0.6 0a0.6 0.6 0 1 0 1.3 0a0.6 0.6 0 1 0 -1.3 0M339.6 339.9m-0.9 0a0.9 0.9 0 1 0 1.9 0a0.9 0.9 0 1 0 -1.9 0M339.2 339.7m-0.5 0a0.5 0.5 0 1 0 1.0 0a0.5 0.5 0 1 0 -1.0 0M346.5 360.3m-0.9 0a0.9 0.9 0 1 0 1.9 0a0.9 0.9 0 1 0 -1.9 0M348.4 361.3m-0.8 0a0.8 0.8 0 1 0 1.5 0a0.8 0.8 0 1 0 -1.5 0M348.8 362.0m-0.7 0a0.7 0.7 0 1 0 1.3 0a0.7 0.7 0 1 0 -1.3 0M346.2 359.7m-0.8 0a0.8 0.8 0 1 0 1.5 0a0.8 0.8 0 1 0 -1.5 0M351.3 295.6m-0.6 0a0.6 0.6 0 1 0 1.2 0a0.6 0.6 0 1 0 -1.2 0M349.5 291.1m-0.5 0a0.5 0.5 0 1 0 1.1 0a0.5 0.5 0 1 0 -1.1 0M351.8 285.0m-0.6 0a0.6 0.6 0 1 0 1.2 0a0.6 0.6 0 1 0 -1.2 0M358.7 308.2m-0.8 0a0.8 0.8 0 1 0 1.6 0a0.8 0.8 0 1 0 -1.6 0M355.4 307.1m-0.9 0a0.9 0.9 0 1 0 1.8 0a0.9 0.9 0 1 0 -1.8 0M364.4 306.4m-0.6 0a0.6 0.6 0 1 0 1.2 0a0.6 0.6 0 1 0 -1.2 0M368.3 302.6m-0.8 0a0.8 0.8 0 1 0 1.6 0a0.8 0.8 0 1 0 -1.6 0M361.8 305.1m-0.9 0a0.9 0.9 0 1 0 1.7 0a0.9 0.9 0 1 0 -1.7 0M359.9 309.9m-0.8 0a0.8 0.8 0 1 0 1.7 0a0.8 0.8 0 1 0 -1.7 0M358.6 328.6m-0.7 0a0.7 0.7 0 1 0 1.3 0a0.7 0.7 0 1 0 -1.3 0M362.1 319.0m-0.5 0a0.5 0.5 0 1 0 1.1 0a0.5 0.5 0 1 0 -1.1 0M366.5 324.2m-0.6 0a0.6 0.6 0 1 0 1.2 0a0.6 0.6 0 1 0 -1.2 0M361.0 320.6m-0.7 0a0.7 0.7 0 1 0 1.4 0a0.7 0.7 0 1 0 -1.4 0M360.2 324.8m-0.8 0a0.8 0.8 0 1 0 1.7 0a0.8 0.8 0 1 0 -1.7 0M359.6 330.2m-0.7 0a0.7 0.7 0 1 0 1.3 0a0.7 0.7 0 1 0 -1.3 0M359.9 329.2m-0.5 0a0.5 0.5 0 1 0 1.1 0a0.5 0.5 0 1 0 -1.1 0M360.8 322.7m-0.8 0a0.8 0.8 0 1 0 1.5 0a0.8 0.8 0 1 0 -1.5 0M366.9 323.7m-0.9 0a0.9 0.9 0 1 0 1.8 0a0.9 0.9 0 1 0 -1.8 0M360.6 324.4m-0.5 0a0.5 0.5 0 1 0 1.0 0a0.5 0.5 0 1 0 -1.0 0M361.2 324.9m-0.5 0a0.5 0.5 0 1 0 1.0 0a0.5 0.5 0 1 0 -1.0 0M363.9 340.3m-0.6 0a0.6 0.6 0 1 0 1.1 0a0.6 0.6 0 1 0 -1.1 0M352.9 342.3m-0.9 0a0.9 0.9 0 1 0 1.9 0a0.9 0.9 0 1 0 -1.9 0M357.1 345.3m-0.7 0a0.7 0.7 0 1 0 1.4 0a0.7 0.7 0 1 0 -1.4 0M358.8 339.4m-0.6 0a0.6 0.6 0 1 0 1.1 0a0.6 0.6 0 1 0 -1.1 0M365.7 342.7m-0.9 0a0.9 0.9 0 1 0 1.8 0a0.9 0.9 0 1 0 -1.8 0M357.5 340.3m-0.8 0a0.8 0.8 0 1 0 1.6 0a0.8 0.8 0 1 0 -1.6 0M361.5 335.6m-0.6 0a0.6 0.6 0 1 0 1.2 0a0.6 0.6 0 1 0 -1.2 0M363.2 338.2m-0.7 0a0.7 0.7 0 1 0 1.5 0a0.7 0.7 0 1 0 -1.5 0M352.9 347.2m-0.5 0a0.5 0.5 0 1 0 1.1 0a0.5 0.5 0 1 0 -1.1 0M356.6 351.4m-0.8 0a0.8 0.8 0 1 0 1.7 0a0.8 0.8 0 1 0 -1.7 0M356.6 353.7m-0.7 0a0.7 0.7 0 1 0 1.5 0a0.7 0.7 0 1 0 -1.5 0M351.4 353.4m-0.8 0a0.8 0.8 0 1 0 1.5 0a0.8 0.8 0 1 0 -1.5 0M350.8 355.9m-0.8 0a0.8 0.8 0 1 0 1.5 0a0.8 0.8 0 1 0 -1.5 0M352.6 350.7m-0.8 0a0.8 0.8 0 1 0 1.6 0a0.8 0.8 0 1 0 -1.6 0M355.3 348.3m-0.8 0a0.8 0.8 0 1 0 1.5 0a0.8 0.8 0 1 0 -1.5 0M356.8 357.2m-0.5 0a0.5 0.5 0 1 0 1.1 0a0.5 0.5 0 1 0 -1.1 0M350.7 350.2m-0.9 0a0.9 0.9 0 1 0 1.8 0a0.9 0.9 0 1 0 -1.8 0M347.7 353.3m-0.7 0a0.7 0.7 0 1 0 1.4 0a0.7 0.7 0 1 0 -1.4 0M369.2 296.3m-0.7 0a0.7 0.7 0 1 0 1.5 0a0.7 0.7 0 1 0 -1.5 0M375.0 310.8m-0.5 0a0.5 0.5 0 1 0 1.0 0a0.5 0.5 0 1 0 -1.0 0M365.4 310.9m-0.9 0a0.9 0.9 0 1 0 1.7 0a0.9 0.9 0 1 0 -1.7 0M367.8 309.1m-0.9 0a0.9 0.9 0 1 0 1.8 0a0.9 0.9 0 1 0 -1.8 0M373.5 311.4m-0.9 0a0.9 0.9 0 1 0 1.7 0a0.9 0.9 0 1 0 -1.7 0M377.5 309.0m-0.6 0a0.6 0.6 0 1 0 1.1 0a0.6 0.6 0 1 0 -1.1 0M372.4 311.3m-0.9 0a0.9 0.9 0 1 0 1.8 0a0.9 0.9 0 1 0 -1.8 0M371.5 311.9m-0.8 0a0.8 0.8 0 1 0 1.6 0a0.8 0.8 0 1 0 -1.6 0M376.9 324.2m-0.7 0a0.7 0.7 0 1 0 1.5 0a0.7 0.7 0 1 0 -1.5 0M375.0 328.0m-0.7 0a0.7 0.7 0 1 0 1.4 0a0.7 0.7 0 1 0 -1.4 0M375.3 336.4m-0.7 0a0.7 0.7 0 1 0 1.5 0a0.7 0.7 0 1 0 -1.5 0M374.1 333.5m-0.8 0a0.8 0.8 0 1 0 1.5 0a0.8 0.8 0 1 0 -1.5 0M374.6 334.2m-0.5 0a0.5 0.5 0 1 0 1.0 0a0.5 0.5 0 1 0 -1.0 0M378.7 330.0m-0.6 0a0.6 0.6 0 1 0 1.3 0a0.6 0.6 0 1 0 -1.3 0M378.2 331.8m-0.8 0a0.8 0.8 0 1 0 1.6 0a0.8 0.8 0 1 0 -1.6 0M386.1 331.4m-0.5 0a0.5 0.5 0 1 0 1.1 0a0.5 0.5 0 1 0 -1.1 0M374.5 333.6m-0.7 0a0.7 0.7 0 1 0 1.4 0a0.7 0.7 0 1 0 -1.4 0M381.2 334.5m-0.8 0a0.8 0.8 0 1 0 1.6 0a0.8 0.8 0 1 0 -1.6 0M374.2 335.0m-0.7 0a0.7 0.7 0 1 0 1.4 0a0.7 0.7 0 1 0 -1.4 0M374.0 335.6m-0.7 0a0.7 0.7 0 1 0 1.3 0a0.7 0.7 0 1 0 -1.3 0M375.4 336.5m-0.9 0a0.9 0.9 0 1 0 1.9 0a0.9 0.9 0 1 0 -1.9 0M377.4 335.2m-0.8 0a0.8 0.8 0 1 0 1.6 0a0.8 0.8 0 1 0 -1.6 0M372.0 333.0m-0.8 0a0.8 0.8 0 1 0 1.6 0a0.8 0.8 0 1 0 -1.6 0M377.3 336.3m-0.8 0a0.8 0.8 0 1 0 1.6 0a0.8 0.8 0 1 0 -1.6 0M378.2 328.2m-0.9 0a0.9 0.9 0 1 0 1.9 0a0.9 0.9 0 1 0 -1.9 0M371.6 331.7m-0.7 0a0.7 0.7 0 1 0 1.3 0a0.7 0.7 0 1 0 -1.3 0M373.3 334.2m-0.5 0a0.5 0.5 0 1 0 1.1 0a0.5 0.5 0 1 0 -1.1 0M377.8 336.6m-0.6 0a0.6 0.6 0 1 0 1.2 0a0.6 0.6 0 1 0 -1.2 0M375.6 349.6m-0.5 0a0.5 0.5 0 1 0 1.1 0a0.5 0.5 0 1 0 -1.1 0M375.6 347.8m-0.6 0a0.6 0.6 0 1 0 1.3 0a0.6 0.6 0 1 0 -1.3 0M371.3 351.4m-0.6 0a0.6 0.6 0 1 0 1.3 0a0.6 0.6 0 1 0 -1.3 0M370.4 348.4m-0.6 0a0.6 0.6 0 1 0 1.2 0a0.6 0.6 0 1 0 -1.2 0M371.3 354.9m-0.9 0a0.9 0.9 0 1 0 1.8 0a0.9 0.9 0 1 0 -1.8 0M369.7 347.4m-0.9 0a0.9 0.9 0 1 0 1.8 0a0.9 0.9 0 1 0 -1.8 0M371.3 351.1m-0.5 0a0.5 0.5 0 1 0 1.1 0a0.5 0.5 0 1 0 -1.1 0M388.6 297.3m-0.9 0a0.9 0.9 0 1 0 1.9 0a0.9 0.9 0 1 0 -1.9 0M389.8 302.3m-0.6 0a0.6 0.6 0 1 0 1.2 0a0.6 0.6 0 1 0 -1.2 0M389.3 304.8m-0.7 0a0.7 0.7 0 1 0 1.5 0a0.7 0.7 0 1 0 -1.5 0M391.6 305.9m-0.9 0a0.9 0.9 0 1 0 1.8 0a0.9 0.9 0 1 0 -1.8 0M384.9 304.8m-0.7 0a0.7 0.7 0 1 0 1.4 0a0.7 0.7 0 1 0 -1.4 0M390.3 304.0m-0.9 0a0.9 0.9 0 1 0 1.9 0a0.9 0.9 0 1 0 -1.9 0M385.6 323.5m-0.5 0a0.5 0.5 0 1 0 1.1 0a0.5 0.5 0 1 0 -1.1 0M384.0 323.9m-0.6 0a0.6 0.6 0 1 0 1.2 0a0.6 0.6 0 1 0 -1.2 0M383.2 331.7m-0.9 0a0.9 0.9 0 1 0 1.9 0a0.9 0.9 0 1 0 -1.9 0M393.0 323.6m-0.5 0a0.5 0.5 0 1 0 1.0 0a0.5 0.5 0 1 0 -1.0 0M385.4 321.7m-0.7 0a0.7 0.7 0 1 0 1.4 0a0.7 0.7 0 1 0 -1.4 0M384.2 322.2m-0.9 0a0.9 0.9 0 1 0 1.7 0a0.9 0.9 0 1 0 -1.7 0M389.3 343.1m-0.8 0a0.8 0.8 0 1 0 1.5 0a0.8 0.8 0 1 0 -1.5 0M384.2 347.5m-0.8 0a0.8 0.8 0 1 0 1.7 0a0.8 0.8 0 1 0 -1.7 0M385.0 339.5m-0.9 0a0.9 0.9 0 1 0 1.8 0a0.9 0.9 0 1 0 -1.8 0M388.6 347.1m-0.8 0a0.8 0.8 0 1 0 1.5 0a0.8 0.8 0 1 0 -1.5 0M387.7 345.9m-0.6 0a0.6 0.6 0 1 0 1.2 0a0.6 0.6 0 1 0 -1.2 0M387.0 349.0m-0.9 0a0.9 0.9 0 1 0 1.8 0a0.9 0.9 0 1 0 -1.8 0M386.9 345.1m-0.6 0a0.6 0.6 0 1 0 1.2 0a0.6 0.6 0 1 0 -1.2 0M387.5 344.5m-0.7 0a0.7 0.7 0 1 0 1.3 0a0.7 0.7 0 1 0 -1.3 0M380.2 346.0m-0.7 0a0.7 0.7 0 1 0 1.5 0a0.7 0.7 0 1 0 -1.5 0M387.5 349.8m-0.7 0a0.7 0.7 0 1 0 1.4 0a0.7 0.7 0 1 0 -1.4 0M391.7 345.2m-0.9 0a0.9 0.9 0 1 0 1.8 0a0.9 0.9 0 1 0 -1.8 0M387.4 345.4m-0.9 0a0.9 0.9 0 1 0 1.9 0a0.9 0.9 0 1 0 -1.9 0M387.5 344.1m-0.6 0a0.6 0.6 0 1 0 1.2 0a0.6 0.6 0 1 0 -1.2 0M386.3 353.1m-0.8 0a0.8 0.8 0 1 0 1.5 0a0.8 0.8 0 1 0 -1.5 0M395.1 296.9m-0.6 0a0.6 0.6 0 1 0 1.3 0a0.6 0.6 0 1 0 -1.3 0M398.7 303.4m-0.8 0a0.8 0.8 0 1 0 1.6 0a0.8 0.8 0 1 0 -1.6 0M394.8 303.2m-0.7 0a0.7 0.7 0 1 0 1.5 0a0.7 0.7 0 1 0 -1.5 0M392.3 302.0m-0.7 0a0.7 0.7 0 1 0 1.4 0a0.7 0.7 0 1 0 -1.4 0M397.4 302.4m-0.6 0a0.6 0.6 0 1 0 1.2 0a0.6 0.6 0 1 0 -1.2 0M393.0 300.2m-0.5 0a0.5 0.5 0 1 0 1.1 0a0.5 0.5 0 1 0 -1.1 0M396.1 300.8m-0.6 0a0.6 0.6 0 1 0 1.2 0a0.6 0.6 0 1 0 -1.2 0M399.8 319.0m-0.9 0a0.9 0.9 0 1 0 1.7 0a0.9 0.9 0 1 0 -1.7 0M405.7 319.7m-0.6 0a0.6 0.6 0 1 0 1.2 0a0.6 0.6 0 1 0 -1.2 0M403.8 317.6m-0.9 0a0.9 0.9 0 1 0 1.8 0a0.9 0.9 0 1 0 -1.8 0M403.6 318.2m-0.8 0a0.8 0.8 0 1 0 1.6 0a0.8 0.8 0 1 0 -1.6 0M398.2 318.1m-0.7 0a0.7 0.7 0 1 0 1.5 0a0.7 0.7 0 1 0 -1.5 0M403.3 323.0m-0.7 0a0.7 0.7 0 1 0 1.4 0a0.7 0.7 0 1 0 -1.4 0M401.3 319.1m-0.6 0a0.6 0.6 0 1 0 1.2 0a0.6 0.6 0 1 0 -1.2 0M400.7 320.6m-0.6 0a0.6 0.6 0 1 0 1.2 0a0.6 0.6 0 1 0 -1.2 0M402.9 318.6m-0.8 0a0.8 0.8 0 1 0 1.6 0a0.8 0.8 0 1 0 -1.6 0M405.5 318.3m-0.8 0a0.8 0.8 0 1 0 1.5 0a0.8 0.8 0 1 0 -1.5 0M408.7 319.1m-0.6 0a0.6 0.6 0 1 0 1.2 0a0.6 0.6 0 1 0 -1.2 0M397.1 342.1m-0.9 0a0.9 0.9 0 1 0 1.8 0a0.9 0.9 0 1 0 -1.8 0M399.6 344.9m-0.9 0a0.9 0.9 0 1 0 1.8 0a0.9 0.9 0 1 0 -1.8 0M403.2 343.5m-0.6 0a0.6 0.6 0 1 0 1.2 0a0.6 0.6 0 1 0 -1.2 0M400.3 347.2m-0.6 0a0.6 0.6 0 1 0 1.3 0a0.6 0.6 0 1 0 -1.3 0M392.4 347.3m-0.7 0a0.7 0.7 0 1 0 1.3 0a0.7 0.7 0 1 0 -1.3 0M399.2 345.4m-0.5 0a0.5 0.5 0 1 0 1.0 0a0.5 0.5 0 1 0 -1.0 0M402.9 352.2m-0.7 0a0.7 0.7 0 1 0 1.4 0a0.7 0.7 0 1 0 -1.4 0M392.2 351.5m-0.7 0a0.7 0.7 0 1 0 1.5 0a0.7 0.7 0 1 0 -1.5 0M398.0 356.0m-0.5 0a0.5 0.5 0 1 0 1.0 0a0.5 0.5 0 1 0 -1.0 0M397.0 351.6m-0.9 0a0.9 0.9 0 1 0 1.8 0a0.9 0.9 0 1 0 -1.8 0M402.0 354.0m-0.6 0a0.6 0.6 0 1 0 1.2 0a0.6 0.6 0 1 0 -1.2 0M395.7 357.0m-0.9 0a0.9 0.9 0 1 0 1.8 0a0.9 0.9 0 1 0 -1.8 0M398.9 362.3m-0.9 0a0.9 0.9 0 1 0 1.9 0a0.9 0.9 0 1 0 -1.9 0M400.0 355.7m-0.8 0a0.8 0.8 0 1 0 1.6 0a0.8 0.8 0 1 0 -1.6 0M391.3 357.6m-0.7 0a0.7 0.7 0 1 0 1.4 0a0.7 0.7 0 1 0 -1.4 0M399.8 362.0m-0.6 0a0.6 0.6 0 1 0 1.1 0a0.6 0.6 0 1 0 -1.1 0M404.0 362.7m-0.9 0a0.9 0.9 0 1 0 1.9 0a0.9 0.9 0 1 0 -1.9 0M415.5 323.0m-0.9 0a0.9 0.9 0 1 0 1.8 0a0.9 0.9 0 1 0 -1.8 0M409.8 324.9m-0.9 0a0.9 0.9 0 1 0 1.9 0a0.9 0.9 0 1 0 -1.9 0M412.1 327.3m-0.6 0a0.6 0.6 0 1 0 1.2 0a0.6 0.6 0 1 0 -1.2 0M408.3 324.1m-0.5 0a0.5 0.5 0 1 0 1.0 0a0.5 0.5 0 1 0 -1.0 0M411.4 328.3m-0.6 0a0.6 0.6 0 1 0 1.1 0a0.6 0.6 0 1 0 -1.1 0M410.9 327.9m-0.9 0a0.9 0.9 0 1 0 1.9 0a0.9 0.9 0 1 0 -1.9 0M404.4 329.5m-0.6 0a0.6 0.6 0 1 0 1.2 0a0.6 0.6 0 1 0 -1.2 0M410.1 324.9m-0.6 0a0.6 0.6 0 1 0 1.2 0a0.6 0.6 0 1 0 -1.2 0M413.8 323.6m-0.5 0a0.5 0.5 0 1 0 1.1 0a0.5 0.5 0 1 0 -1.1 0M413.2 329.8m-0.8 0a0.8 0.8 0 1 0 1.6 0a0.8 0.8 0 1 0 -1.6 0M413.9 323.3m-0.7 0a0.7 0.7 0 1 0 1.3 0a0.7 0.7 0 1 0 -1.3 0M410.8 340.6m-0.5 0a0.5 0.5 0 1 0 1.0 0a0.5 0.5 0 1 0 -1.0 0M410.7 343.7m-0.8 0a0.8 0.8 0 1 0 1.6 0a0.8 0.8 0 1 0 -1.6 0M406.9 342.5m-0.5 0a0.5 0.5 0 1 0 1.1 0a0.5 0.5 0 1 0 -1.1 0M412.4 339.1m-0.8 0a0.8 0.8 0 1 0 1.6 0a0.8 0.8 0 1 0 -1.6 0M414.5 360.6m-0.9 0a0.9 0.9 0 1 0 1.8 0a0.9 0.9 0 1 0 -1.8 0M408.8 355.4m-0.7 0a0.7 0.7 0 1 0 1.5 0a0.7 0.7 0 1 0 -1.5 0M415.9 362.9m-0.7 0a0.7 0.7 0 1 0 1.4 0a0.7 0.7 0 1 0 -1.4 0M417.6 360.6m-0.9 0a0.9 0.9 0 1 0 1.8 0a0.9 0.9 0 1 0 -1.8 0M416.4 359.2m-0.8 0a0.8 0.8 0 1 0 1.6 0a0.8 0.8 0 1 0 -1.6 0" fill="#474b4f"/>
<path d="M344.5 284.5m-0.9 0a0.9 0.9 0 1 0 1.7 0a0.9 0.9 0 1 0 -1.7 0M364.6 348.0m-0.7 0a0.7 0.7 0 1 0 1.3 0a0.7 0.7 0 1 0 -1.3 0M406.3 320.0m-0.6 0a0.6 0.6 0 1 0 1.1 0a0.6 0.6 0 1 0 -1.1 0M327.3 327.0m-0.8 0a0.8 0.8 0 1 0 1.5 0a0.8 0.8 0 1 0 -1.5 0M382.6 312.9m-0.7 0a0.7 0.7 0 1 0 1.4 0a0.7 0.7 0 1 0 -1.4 0M339.3 306.1m-0.7 0a0.7 0.7 0 1 0 1.4 0a0.7 0.7 0 1 0 -1.4 0M370.6 346.8m-0.9 0a0.9 0.9 0 1 0 1.8 0a0.9 0.9 0 1 0 -1.8 0M344.0 293.9m-0.9 0a0.9 0.9 0 1 0 1.8 0a0.9 0.9 0 1 0 -1.8 0M414.8 321.7m-0.5 0a0.5 0.5 0 1 0 1.0 0a0.5 0.5 0 1 0 -1.0 0M410.3 314.3m-0.9 0a0.9 0.9 0 1 0 1.7 0a0.9 0.9 0 1 0 -1.7 0M382.5 348.3m-0.6 0a0.6 0.6 0 1 0 1.1 0a0.6 0.6 0 1 0 -1.1 0M397.5 301.3m-0.7 0a0.7 0.7 0 1 0 1.3 0a0.7 0.7 0 1 0 -1.3 0M403.0 348.7m-0.6 0a0.6 0.6 0 1 0 1.1 0a0.6 0.6 0 1 0 -1.1 0M345.9 315.2m-0.7 0a0.7 0.7 0 1 0 1.4 0a0.7 0.7 0 1 0 -1.4 0M348.5 340.5m-0.9 0a0.9 0.9 0 1 0 1.7 0a0.9 0.9 0 1 0 -1.7 0M329.7 327.9m-0.8 0a0.8 0.8 0 1 0 1.6 0a0.8 0.8 0 1 0 -1.6 0M336.7 330.8m-0.7 0a0.7 0.7 0 1 0 1.4 0a0.7 0.7 0 1 0 -1.4 0M383.1 307.9m-0.7 0a0.7 0.7 0 1 0 1.3 0a0.7 0.7 0 1 0 -1.3 0M379.0 317.2m-0.8 0a0.8 0.8 0 1 0 1.5 0a0.8 0.8 0 1 0 -1.5 0M366.7 318.2m-0.5 0a0.5 0.5 0 1 0 1.0 0a0.5 0.5 0 1 0 -1.0 0M382.3 322.2m-0.6 0a0.6 0.6 0 1 0 1.2 0a0.6 0.6 0 1 0 -1.2 0M395.5 344.8m-0.7 0a0.7 0.7 0 1 0 1.4 0a0.7 0.7 0 1 0 -1.4 0M342.3 320.9m-0.5 0a0.5 0.5 0 1 0 1.1 0a0.5 0.5 0 1 0 -1.1 0M337.7 317.6m-0.5 0a0.5 0.5 0 1 0 1.1 0a0.5 0.5 0 1 0 -1.1 0M366.2 323.8m-0.5 0a0.5 0.5 0 1 0 1.0 0a0.5 0.5 0 1 0 -1.0 0M392.7 344.7m-0.7 0a0.7 0.7 0 1 0 1.4 0a0.7 0.7 0 1 0 -1.4 0M330.9 323.3m-0.7 0a0.7 0.7 0 1 0 1.3 0a0.7 0.7 0 1 0 -1.3 0M404.0 361.7m-0.8 0a0.8 0.8 0 1 0 1.6 0a0.8 0.8 0 1 0 -1.6 0M415.3 322.4m-0.9 0a0.9 0.9 0 1 0 1.8 0a0.9 0.9 0 1 0 -1.8 0M397.7 356.6m-0.5 0a0.5 0.5 0 1 0 1.1 0a0.5 0.5 0 1 0 -1.1 0M357.9 343.0m-0.6 0a0.6 0.6 0 1 0 1.1 0a0.6 0.6 0 1 0 -1.1 0M371.7 355.8m-0.6 0a0.6 0.6 0 1 0 1.2 0a0.6 0.6 0 1 0 -1.2 0M349.9 323.5m-0.6 0a0.6 0.6 0 1 0 1.3 0a0.6 0.6 0 1 0 -1.3 0M329.4 298.2m-0.6 0a0.6 0.6 0 1 0 1.1 0a0.6 0.6 0 1 0 -1.1 0M411.2 337.0m-0.9 0a0.9 0.9 0 1 0 1.7 0a0.9 0.9 0 1 0 -1.7 0M341.4 345.2m-0.5 0a0.5 0.5 0 1 0 1.1 0a0.5 0.5 0 1 0 -1.1 0M374.3 333.6m-0.6 0a0.6 0.6 0 1 0 1.3 0a0.6 0.6 0 1 0 -1.3 0M405.4 327.3m-0.7 0a0.7 0.7 0 1 0 1.5 0a0.7 0.7 0 1 0 -1.5 0M416.4 333.1m-0.7 0a0.7 0.7 0 1 0 1.3 0a0.7 0.7 0 1 0 -1.3 0M398.6 304.7m-0.9 0a0.9 0.9 0 1 0 1.8 0a0.9 0.9 0 1 0 -1.8 0M378.5 312.1m-0.8 0a0.8 0.8 0 1 0 1.6 0a0.8 0.8 0 1 0 -1.6 0M366.2 297.8m-0.8 0a0.8 0.8 0 1 0 1.6 0a0.8 0.8 0 1 0 -1.6 0M349.1 333.9m-0.9 0a0.9 0.9 0 1 0 1.8 0a0.9 0.9 0 1 0 -1.8 0M379.3 335.8m-0.6 0a0.6 0.6 0 1 0 1.3 0a0.6 0.6 0 1 0 -1.3 0M326.2 286.6m-0.6 0a0.6 0.6 0 1 0 1.1 0a0.6 0.6 0 1 0 -1.1 0M382.1 317.7m-0.7 0a0.7 0.7 0 1 0 1.4 0a0.7 0.7 0 1 0 -1.4 0M346.7 334.9m-0.5 0a0.5 0.5 0 1 0 1.0 0a0.5 0.5 0 1 0 -1.0 0" fill="#c2c5c7"/>
</g><g filter="url(#texL)">
<path d="M322.0 344.0C322.8 340.8 325.2 345.5 327.0 347.0C328.8 348.5 330.8 351.5 333.0 353.0C335.2 354.5 337.9 355.2 340.0 356.0C342.1 356.8 345.5 356.8 345.5 357.5C345.5 358.2 342.6 359.2 340.0 360.0C337.4 360.8 333.0 361.0 330.0 362.0C327.0 363.0 323.3 369.0 322.0 366.0C320.7 363.0 321.2 347.2 322.0 344.0Z" fill="#d2d5d7" />
<rect x="322" y="360.3" width="40" height="5" fill="#a3a7aa"/>
</g>
<path d="M328.3 361.6H335.6" stroke="#000" stroke-width="1.5"/>
</g>
<path d="M421.6 361.5H431" stroke="#000" stroke-width="1.5"/>
<g clip-path="url(#cBR)"><g filter="url(#tex2)">
<rect x="418" y="280" width="100" height="90" fill="#868a8d"/>
<path d="M462.0 280.0C471.0 278.0 510.3 276.7 520.0 280.0C529.7 283.3 523.3 297.3 520.0 300.0C516.7 302.7 506.7 296.3 500.0 296.0C493.3 295.7 485.7 298.7 480.0 298.0C474.3 297.3 469.0 295.0 466.0 292.0C463.0 289.0 453.0 282.0 462.0 280.0Z" fill="#969a9d" />
<path d="M434.0 340.0C435.5 338.8 439.3 341.0 441.0 343.0C442.7 345.0 443.8 349.2 444.0 352.0C444.2 354.8 443.3 358.0 442.0 360.0C440.7 362.0 437.7 365.7 436.0 364.0C434.3 362.3 432.3 354.0 432.0 350.0C431.7 346.0 432.5 341.2 434.0 340.0Z" fill="#5c6064" />
<path d="M499.8 276.3Q506.1 282.4 513.7 286.6M487.9 312.4Q485.7 304.4 479.4 298.8M487.9 312.4Q486.5 314.4 485.3 316.5M485.3 316.5Q481.0 315.7 477.0 317.6M472.6 298.9Q476.0 298.4 479.4 298.8M472.6 298.9Q473.2 306.5 472.0 314.0M472.0 314.0Q474.2 316.3 477.0 317.6M464.8 316.4Q462.6 321.9 462.1 327.8M464.8 316.4Q468.6 315.8 472.0 314.0M477.0 317.6Q473.7 321.6 473.0 326.8M473.0 326.8Q467.4 326.4 462.1 327.8M458.7 361.6Q465.5 362.6 472.3 361.8M476.2 366.5Q474.8 363.7 472.3 361.8M476.2 366.5Q479.4 367.5 482.7 367.9M518.2 335.7Q514.4 343.0 508.7 348.9M508.7 348.9Q510.8 352.0 514.1 353.8M503.5 366.4Q506.8 365.7 510.2 366.2M515.2 363.3Q512.5 364.4 510.2 366.2M447.8 358.2Q452.8 359.6 457.9 360.8M447.8 358.2Q446.2 354.7 445.2 351.0M450.2 344.9Q448.4 348.5 445.2 351.0M450.2 344.9Q454.8 347.4 460.0 347.1M460.0 347.1Q461.0 354.3 457.9 360.8M441.2 363.5Q445.1 361.6 447.8 358.2M458.7 361.6Q458.4 361.1 457.9 360.8M435.9 346.5Q440.6 348.7 445.2 351.0M513.7 286.6Q513.9 287.7 514.4 288.7M514.1 353.8Q515.4 358.4 515.2 363.3M496.5 310.6Q498.9 309.6 500.5 307.5M496.5 310.6Q501.5 320.4 501.8 331.3M500.5 307.5Q507.2 313.3 514.5 318.3M514.5 318.3Q511.9 323.6 509.1 328.7M501.8 331.3Q505.6 330.4 509.1 328.7M488.6 329.3Q486.9 323.0 485.3 316.5M488.6 329.3Q494.1 332.8 500.5 332.3M500.5 332.3Q501.3 331.9 501.8 331.3M487.9 312.4Q492.5 312.8 496.5 310.6M463.0 278.1Q463.6 278.3 463.9 278.8M463.9 278.8Q466.9 279.2 469.3 280.9M469.3 280.9Q471.2 280.1 473.0 279.3M485.4 293.6Q487.4 288.2 487.6 282.6M485.4 293.6Q494.1 296.2 502.2 300.5M504.8 297.8Q503.5 299.1 502.2 300.5M504.8 297.8Q497.3 290.5 495.5 280.1M495.5 280.1Q492.1 280.4 488.9 281.4M488.9 281.4Q488.1 281.9 487.6 282.6M471.5 298.4Q469.7 289.7 469.3 280.9M471.5 298.4Q472.1 298.5 472.6 298.9M479.4 298.8Q482.2 296.0 485.4 293.6M473.0 279.3Q480.0 282.2 487.6 282.6M500.5 307.5Q501.5 304.1 502.2 300.5M499.8 276.3Q497.1 277.6 495.5 280.1M514.4 288.7Q511.7 292.4 509.5 296.3M509.5 296.3Q507.3 297.6 504.8 297.8M471.5 298.4Q466.3 298.9 461.1 300.2M464.8 316.4Q462.4 314.9 461.2 312.3M461.2 312.3Q462.2 306.2 461.1 300.2M463.9 278.8Q462.2 289.5 456.3 298.5M461.1 300.2Q459.0 298.6 456.3 298.5M451.9 295.6Q453.8 297.0 455.7 298.4M456.3 298.5Q456.0 298.5 455.7 298.4M485.6 331.4Q482.1 332.5 478.5 331.8M485.6 331.4Q483.2 339.2 484.3 347.3M478.5 331.8Q473.2 336.7 471.5 343.7M484.3 347.3Q480.0 347.4 475.8 348.6M471.5 343.7Q473.4 346.4 475.8 348.6M488.6 329.3Q487.0 330.1 485.6 331.4M473.0 326.8Q475.3 329.8 478.5 331.8M465.4 341.8Q468.3 343.2 471.5 343.7M465.4 341.8Q460.9 336.6 459.5 329.9M459.5 329.9Q460.9 329.0 462.1 327.8M465.4 341.8Q461.9 343.7 460.0 347.1M472.3 361.8Q471.8 354.6 475.8 348.6M500.3 340.4Q503.1 343.4 504.5 347.3M500.3 340.4Q492.6 343.0 486.3 348.1M504.5 347.3Q502.2 354.2 496.3 358.5M486.3 348.1Q489.8 352.7 491.7 358.1M491.7 358.1Q493.9 358.8 496.3 358.5M500.5 332.3Q500.8 336.4 500.3 340.4M518.2 335.7Q514.7 330.9 509.1 328.7M508.7 348.9Q506.4 348.4 504.5 347.3M484.3 347.3Q485.3 347.6 486.3 348.1M503.5 366.4Q498.8 363.5 496.3 358.5M482.7 367.9Q488.3 364.0 491.7 358.1M438.5 336.9Q444.2 336.0 448.3 332.1M450.8 328.8Q446.7 323.9 445.0 317.7M450.8 328.8Q449.8 330.6 448.3 332.1M445.0 317.7Q444.5 317.1 443.9 316.6M443.9 316.6Q441.5 316.6 439.4 315.2M439.4 315.2Q436.9 318.0 433.1 318.7M435.9 346.5Q436.6 341.5 438.5 336.9M450.2 344.9Q448.8 338.6 448.3 332.1M459.5 329.9Q455.2 329.2 450.8 328.8M461.2 312.3Q453.0 314.7 445.0 317.7M455.7 298.4Q450.9 308.2 443.9 316.6M514.8 318.2Q514.4 309.5 515.0 300.8M509.5 296.3Q512.6 298.1 515.0 300.8M514.5 318.3Q514.6 318.2 514.8 318.2" stroke="#b0b4b7" stroke-width="1.2" fill="none" opacity="0.65" stroke-linecap="round"/>
<path d="M433.0 314.3m-0.8 0a0.8 0.8 0 1 0 1.6 0a0.8 0.8 0 1 0 -1.6 0M447.5 302.3m-0.6 0a0.6 0.6 0 1 0 1.3 0a0.6 0.6 0 1 0 -1.3 0M443.1 305.6m-0.5 0a0.5 0.5 0 1 0 1.0 0a0.5 0.5 0 1 0 -1.0 0M446.4 301.5m-0.8 0a0.8 0.8 0 1 0 1.7 0a0.8 0.8 0 1 0 -1.7 0M434.2 327.0m-0.8 0a0.8 0.8 0 1 0 1.7 0a0.8 0.8 0 1 0 -1.7 0M440.0 329.6m-0.7 0a0.7 0.7 0 1 0 1.4 0a0.7 0.7 0 1 0 -1.4 0M439.9 325.8m-0.6 0a0.6 0.6 0 1 0 1.2 0a0.6 0.6 0 1 0 -1.2 0M442.2 323.7m-0.8 0a0.8 0.8 0 1 0 1.6 0a0.8 0.8 0 1 0 -1.6 0M444.6 327.4m-0.6 0a0.6 0.6 0 1 0 1.2 0a0.6 0.6 0 1 0 -1.2 0M441.4 338.9m-0.9 0a0.9 0.9 0 1 0 1.8 0a0.9 0.9 0 1 0 -1.8 0M440.6 346.5m-0.8 0a0.8 0.8 0 1 0 1.5 0a0.8 0.8 0 1 0 -1.5 0M447.7 343.3m-0.7 0a0.7 0.7 0 1 0 1.3 0a0.7 0.7 0 1 0 -1.3 0M441.7 338.2m-0.6 0a0.6 0.6 0 1 0 1.3 0a0.6 0.6 0 1 0 -1.3 0M443.9 341.5m-0.7 0a0.7 0.7 0 1 0 1.3 0a0.7 0.7 0 1 0 -1.3 0M437.3 341.5m-0.6 0a0.6 0.6 0 1 0 1.2 0a0.6 0.6 0 1 0 -1.2 0M442.8 348.7m-0.9 0a0.9 0.9 0 1 0 1.7 0a0.9 0.9 0 1 0 -1.7 0M439.9 352.4m-0.8 0a0.8 0.8 0 1 0 1.7 0a0.8 0.8 0 1 0 -1.7 0M443.3 359.3m-0.7 0a0.7 0.7 0 1 0 1.5 0a0.7 0.7 0 1 0 -1.5 0M443.1 358.6m-0.9 0a0.9 0.9 0 1 0 1.9 0a0.9 0.9 0 1 0 -1.9 0M455.5 292.8m-0.8 0a0.8 0.8 0 1 0 1.6 0a0.8 0.8 0 1 0 -1.6 0M462.0 290.6m-0.7 0a0.7 0.7 0 1 0 1.4 0a0.7 0.7 0 1 0 -1.4 0M458.2 317.2m-0.7 0a0.7 0.7 0 1 0 1.3 0a0.7 0.7 0 1 0 -1.3 0M455.4 311.5m-0.8 0a0.8 0.8 0 1 0 1.6 0a0.8 0.8 0 1 0 -1.6 0M455.7 304.8m-0.9 0a0.9 0.9 0 1 0 1.8 0a0.9 0.9 0 1 0 -1.8 0M458.8 302.5m-0.6 0a0.6 0.6 0 1 0 1.3 0a0.6 0.6 0 1 0 -1.3 0M452.4 304.8m-0.6 0a0.6 0.6 0 1 0 1.2 0a0.6 0.6 0 1 0 -1.2 0M455.7 314.9m-0.9 0a0.9 0.9 0 1 0 1.9 0a0.9 0.9 0 1 0 -1.9 0M460.9 311.8m-0.7 0a0.7 0.7 0 1 0 1.4 0a0.7 0.7 0 1 0 -1.4 0M453.0 322.3m-0.8 0a0.8 0.8 0 1 0 1.6 0a0.8 0.8 0 1 0 -1.6 0M462.3 309.5m-0.6 0a0.6 0.6 0 1 0 1.3 0a0.6 0.6 0 1 0 -1.3 0M454.4 314.4m-0.8 0a0.8 0.8 0 1 0 1.5 0a0.8 0.8 0 1 0 -1.5 0M461.0 316.2m-0.6 0a0.6 0.6 0 1 0 1.2 0a0.6 0.6 0 1 0 -1.2 0M448.8 336.6m-0.7 0a0.7 0.7 0 1 0 1.3 0a0.7 0.7 0 1 0 -1.3 0M459.7 338.4m-0.8 0a0.8 0.8 0 1 0 1.7 0a0.8 0.8 0 1 0 -1.7 0M458.9 339.3m-0.7 0a0.7 0.7 0 1 0 1.4 0a0.7 0.7 0 1 0 -1.4 0M457.8 341.2m-0.7 0a0.7 0.7 0 1 0 1.5 0a0.7 0.7 0 1 0 -1.5 0M449.0 344.4m-0.6 0a0.6 0.6 0 1 0 1.3 0a0.6 0.6 0 1 0 -1.3 0M459.6 352.6m-0.7 0a0.7 0.7 0 1 0 1.4 0a0.7 0.7 0 1 0 -1.4 0M449.0 348.8m-0.9 0a0.9 0.9 0 1 0 1.7 0a0.9 0.9 0 1 0 -1.7 0M454.0 349.2m-0.6 0a0.6 0.6 0 1 0 1.3 0a0.6 0.6 0 1 0 -1.3 0M452.8 349.8m-0.5 0a0.5 0.5 0 1 0 1.1 0a0.5 0.5 0 1 0 -1.1 0M454.8 354.8m-0.8 0a0.8 0.8 0 1 0 1.6 0a0.8 0.8 0 1 0 -1.6 0M448.8 352.7m-0.6 0a0.6 0.6 0 1 0 1.2 0a0.6 0.6 0 1 0 -1.2 0M451.5 363.6m-0.5 0a0.5 0.5 0 1 0 1.1 0a0.5 0.5 0 1 0 -1.1 0M463.0 287.9m-0.8 0a0.8 0.8 0 1 0 1.5 0a0.8 0.8 0 1 0 -1.5 0M463.2 287.5m-0.8 0a0.8 0.8 0 1 0 1.5 0a0.8 0.8 0 1 0 -1.5 0M462.7 288.7m-0.7 0a0.7 0.7 0 1 0 1.3 0a0.7 0.7 0 1 0 -1.3 0M458.4 293.0m-0.7 0a0.7 0.7 0 1 0 1.5 0a0.7 0.7 0 1 0 -1.5 0M457.3 290.6m-0.7 0a0.7 0.7 0 1 0 1.3 0a0.7 0.7 0 1 0 -1.3 0M462.2 291.6m-0.9 0a0.9 0.9 0 1 0 1.8 0a0.9 0.9 0 1 0 -1.8 0M465.2 289.0m-0.6 0a0.6 0.6 0 1 0 1.2 0a0.6 0.6 0 1 0 -1.2 0M466.4 290.2m-0.7 0a0.7 0.7 0 1 0 1.3 0a0.7 0.7 0 1 0 -1.3 0M460.6 290.9m-0.7 0a0.7 0.7 0 1 0 1.4 0a0.7 0.7 0 1 0 -1.4 0M466.6 288.9m-0.6 0a0.6 0.6 0 1 0 1.2 0a0.6 0.6 0 1 0 -1.2 0M470.2 309.1m-0.7 0a0.7 0.7 0 1 0 1.4 0a0.7 0.7 0 1 0 -1.4 0M466.8 318.0m-0.6 0a0.6 0.6 0 1 0 1.3 0a0.6 0.6 0 1 0 -1.3 0M468.3 304.4m-0.9 0a0.9 0.9 0 1 0 1.8 0a0.9 0.9 0 1 0 -1.8 0M466.0 309.5m-0.9 0a0.9 0.9 0 1 0 1.7 0a0.9 0.9 0 1 0 -1.7 0M470.4 310.4m-0.7 0a0.7 0.7 0 1 0 1.3 0a0.7 0.7 0 1 0 -1.3 0M459.8 309.9m-0.9 0a0.9 0.9 0 1 0 1.9 0a0.9 0.9 0 1 0 -1.9 0M468.2 307.9m-0.5 0a0.5 0.5 0 1 0 1.1 0a0.5 0.5 0 1 0 -1.1 0M461.4 307.7m-0.7 0a0.7 0.7 0 1 0 1.4 0a0.7 0.7 0 1 0 -1.4 0M469.9 312.5m-0.9 0a0.9 0.9 0 1 0 1.7 0a0.9 0.9 0 1 0 -1.7 0M470.7 312.0m-0.6 0a0.6 0.6 0 1 0 1.2 0a0.6 0.6 0 1 0 -1.2 0M467.9 306.9m-0.7 0a0.7 0.7 0 1 0 1.4 0a0.7 0.7 0 1 0 -1.4 0M474.6 320.0m-0.8 0a0.8 0.8 0 1 0 1.7 0a0.8 0.8 0 1 0 -1.7 0M472.2 321.4m-0.5 0a0.5 0.5 0 1 0 1.0 0a0.5 0.5 0 1 0 -1.0 0M465.9 327.4m-0.9 0a0.9 0.9 0 1 0 1.9 0a0.9 0.9 0 1 0 -1.9 0M469.3 319.2m-0.7 0a0.7 0.7 0 1 0 1.4 0a0.7 0.7 0 1 0 -1.4 0M469.5 318.4m-0.6 0a0.6 0.6 0 1 0 1.3 0a0.6 0.6 0 1 0 -1.3 0M471.0 325.3m-0.5 0a0.5 0.5 0 1 0 1.0 0a0.5 0.5 0 1 0 -1.0 0M474.0 322.6m-0.9 0a0.9 0.9 0 1 0 1.8 0a0.9 0.9 0 1 0 -1.8 0M475.8 335.8m-0.9 0a0.9 0.9 0 1 0 1.8 0a0.9 0.9 0 1 0 -1.8 0M470.7 336.8m-0.9 0a0.9 0.9 0 1 0 1.7 0a0.9 0.9 0 1 0 -1.7 0M470.8 333.7m-0.8 0a0.8 0.8 0 1 0 1.6 0a0.8 0.8 0 1 0 -1.6 0M473.3 338.3m-0.6 0a0.6 0.6 0 1 0 1.1 0a0.6 0.6 0 1 0 -1.1 0M460.1 352.7m-0.7 0a0.7 0.7 0 1 0 1.5 0a0.7 0.7 0 1 0 -1.5 0M468.8 356.9m-0.8 0a0.8 0.8 0 1 0 1.5 0a0.8 0.8 0 1 0 -1.5 0M463.2 354.8m-0.9 0a0.9 0.9 0 1 0 1.7 0a0.9 0.9 0 1 0 -1.7 0M467.4 351.1m-0.6 0a0.6 0.6 0 1 0 1.3 0a0.6 0.6 0 1 0 -1.3 0M468.2 349.7m-0.6 0a0.6 0.6 0 1 0 1.1 0a0.6 0.6 0 1 0 -1.1 0M466.1 357.2m-0.8 0a0.8 0.8 0 1 0 1.6 0a0.8 0.8 0 1 0 -1.6 0M474.5 287.1m-0.9 0a0.9 0.9 0 1 0 1.9 0a0.9 0.9 0 1 0 -1.9 0M473.8 286.8m-0.7 0a0.7 0.7 0 1 0 1.4 0a0.7 0.7 0 1 0 -1.4 0M475.6 290.8m-0.8 0a0.8 0.8 0 1 0 1.5 0a0.8 0.8 0 1 0 -1.5 0M472.8 287.3m-0.9 0a0.9 0.9 0 1 0 1.8 0a0.9 0.9 0 1 0 -1.8 0M482.1 292.1m-0.7 0a0.7 0.7 0 1 0 1.5 0a0.7 0.7 0 1 0 -1.5 0M473.5 283.3m-0.9 0a0.9 0.9 0 1 0 1.8 0a0.9 0.9 0 1 0 -1.8 0M480.1 290.1m-0.8 0a0.8 0.8 0 1 0 1.5 0a0.8 0.8 0 1 0 -1.5 0M479.8 288.7m-0.8 0a0.8 0.8 0 1 0 1.6 0a0.8 0.8 0 1 0 -1.6 0M471.1 313.8m-0.8 0a0.8 0.8 0 1 0 1.6 0a0.8 0.8 0 1 0 -1.6 0M480.7 311.1m-0.6 0a0.6 0.6 0 1 0 1.2 0a0.6 0.6 0 1 0 -1.2 0M484.5 307.5m-0.7 0a0.7 0.7 0 1 0 1.3 0a0.7 0.7 0 1 0 -1.3 0M475.3 310.7m-0.5 0a0.5 0.5 0 1 0 1.1 0a0.5 0.5 0 1 0 -1.1 0M485.9 305.2m-0.9 0a0.9 0.9 0 1 0 1.9 0a0.9 0.9 0 1 0 -1.9 0M481.6 313.8m-0.8 0a0.8 0.8 0 1 0 1.6 0a0.8 0.8 0 1 0 -1.6 0M481.1 319.7m-0.7 0a0.7 0.7 0 1 0 1.4 0a0.7 0.7 0 1 0 -1.4 0M476.3 323.8m-0.9 0a0.9 0.9 0 1 0 1.8 0a0.9 0.9 0 1 0 -1.8 0M478.0 323.8m-0.8 0a0.8 0.8 0 1 0 1.6 0a0.8 0.8 0 1 0 -1.6 0M480.0 325.3m-0.9 0a0.9 0.9 0 1 0 1.8 0a0.9 0.9 0 1 0 -1.8 0M480.6 321.0m-0.6 0a0.6 0.6 0 1 0 1.1 0a0.6 0.6 0 1 0 -1.1 0M479.9 325.5m-0.6 0a0.6 0.6 0 1 0 1.3 0a0.6 0.6 0 1 0 -1.3 0M478.6 325.5m-0.7 0a0.7 0.7 0 1 0 1.5 0a0.7 0.7 0 1 0 -1.5 0M479.7 317.6m-0.7 0a0.7 0.7 0 1 0 1.4 0a0.7 0.7 0 1 0 -1.4 0M475.9 328.5m-0.5 0a0.5 0.5 0 1 0 1.1 0a0.5 0.5 0 1 0 -1.1 0M478.6 325.9m-0.5 0a0.5 0.5 0 1 0 1.0 0a0.5 0.5 0 1 0 -1.0 0M477.1 334.2m-0.8 0a0.8 0.8 0 1 0 1.6 0a0.8 0.8 0 1 0 -1.6 0M477.4 339.8m-0.9 0a0.9 0.9 0 1 0 1.8 0a0.9 0.9 0 1 0 -1.8 0M481.3 337.2m-0.9 0a0.9 0.9 0 1 0 1.7 0a0.9 0.9 0 1 0 -1.7 0M477.2 340.8m-0.7 0a0.7 0.7 0 1 0 1.3 0a0.7 0.7 0 1 0 -1.3 0M480.5 335.8m-0.7 0a0.7 0.7 0 1 0 1.4 0a0.7 0.7 0 1 0 -1.4 0M480.9 358.7m-0.7 0a0.7 0.7 0 1 0 1.4 0a0.7 0.7 0 1 0 -1.4 0M482.2 355.3m-0.8 0a0.8 0.8 0 1 0 1.7 0a0.8 0.8 0 1 0 -1.7 0M481.9 360.6m-0.7 0a0.7 0.7 0 1 0 1.3 0a0.7 0.7 0 1 0 -1.3 0M485.2 358.5m-0.6 0a0.6 0.6 0 1 0 1.2 0a0.6 0.6 0 1 0 -1.2 0M486.1 351.6m-0.9 0a0.9 0.9 0 1 0 1.8 0a0.9 0.9 0 1 0 -1.8 0M483.0 362.7m-0.9 0a0.9 0.9 0 1 0 1.8 0a0.9 0.9 0 1 0 -1.8 0M497.5 292.3m-0.9 0a0.9 0.9 0 1 0 1.8 0a0.9 0.9 0 1 0 -1.8 0M493.2 292.2m-0.7 0a0.7 0.7 0 1 0 1.5 0a0.7 0.7 0 1 0 -1.5 0M490.9 290.2m-0.7 0a0.7 0.7 0 1 0 1.5 0a0.7 0.7 0 1 0 -1.5 0M494.4 296.4m-0.9 0a0.9 0.9 0 1 0 1.8 0a0.9 0.9 0 1 0 -1.8 0M495.9 293.5m-0.7 0a0.7 0.7 0 1 0 1.4 0a0.7 0.7 0 1 0 -1.4 0M499.5 303.0m-0.9 0a0.9 0.9 0 1 0 1.9 0a0.9 0.9 0 1 0 -1.9 0M486.5 300.4m-0.7 0a0.7 0.7 0 1 0 1.4 0a0.7 0.7 0 1 0 -1.4 0M496.7 298.4m-0.7 0a0.7 0.7 0 1 0 1.4 0a0.7 0.7 0 1 0 -1.4 0M485.6 303.3m-0.8 0a0.8 0.8 0 1 0 1.6 0a0.8 0.8 0 1 0 -1.6 0M487.4 301.2m-0.9 0a0.9 0.9 0 1 0 1.8 0a0.9 0.9 0 1 0 -1.8 0M491.9 305.1m-0.7 0a0.7 0.7 0 1 0 1.4 0a0.7 0.7 0 1 0 -1.4 0M491.4 302.5m-0.8 0a0.8 0.8 0 1 0 1.6 0a0.8 0.8 0 1 0 -1.6 0M488.8 303.3m-0.8 0a0.8 0.8 0 1 0 1.6 0a0.8 0.8 0 1 0 -1.6 0M490.6 304.9m-0.8 0a0.8 0.8 0 1 0 1.6 0a0.8 0.8 0 1 0 -1.6 0M493.2 297.0m-0.9 0a0.9 0.9 0 1 0 1.9 0a0.9 0.9 0 1 0 -1.9 0M482.6 295.2m-0.8 0a0.8 0.8 0 1 0 1.6 0a0.8 0.8 0 1 0 -1.6 0M497.3 314.9m-0.5 0a0.5 0.5 0 1 0 1.1 0a0.5 0.5 0 1 0 -1.1 0M492.5 318.4m-0.6 0a0.6 0.6 0 1 0 1.3 0a0.6 0.6 0 1 0 -1.3 0M490.4 316.8m-0.6 0a0.6 0.6 0 1 0 1.2 0a0.6 0.6 0 1 0 -1.2 0M496.1 320.0m-0.8 0a0.8 0.8 0 1 0 1.6 0a0.8 0.8 0 1 0 -1.6 0M486.2 343.9m-0.8 0a0.8 0.8 0 1 0 1.7 0a0.8 0.8 0 1 0 -1.7 0M491.3 336.9m-0.7 0a0.7 0.7 0 1 0 1.4 0a0.7 0.7 0 1 0 -1.4 0M490.3 337.6m-0.7 0a0.7 0.7 0 1 0 1.4 0a0.7 0.7 0 1 0 -1.4 0M484.8 341.6m-0.7 0a0.7 0.7 0 1 0 1.3 0a0.7 0.7 0 1 0 -1.3 0M493.5 336.5m-0.6 0a0.6 0.6 0 1 0 1.1 0a0.6 0.6 0 1 0 -1.1 0M494.9 345.0m-0.7 0a0.7 0.7 0 1 0 1.4 0a0.7 0.7 0 1 0 -1.4 0M490.5 354.1m-0.9 0a0.9 0.9 0 1 0 1.9 0a0.9 0.9 0 1 0 -1.9 0M486.8 346.1m-0.6 0a0.6 0.6 0 1 0 1.3 0a0.6 0.6 0 1 0 -1.3 0M496.1 353.2m-0.5 0a0.5 0.5 0 1 0 1.0 0a0.5 0.5 0 1 0 -1.0 0M492.3 354.8m-0.7 0a0.7 0.7 0 1 0 1.4 0a0.7 0.7 0 1 0 -1.4 0M489.5 345.1m-0.9 0a0.9 0.9 0 1 0 1.8 0a0.9 0.9 0 1 0 -1.8 0M495.5 348.9m-0.6 0a0.6 0.6 0 1 0 1.2 0a0.6 0.6 0 1 0 -1.2 0M499.0 351.1m-0.8 0a0.8 0.8 0 1 0 1.6 0a0.8 0.8 0 1 0 -1.6 0M495.8 359.0m-0.7 0a0.7 0.7 0 1 0 1.4 0a0.7 0.7 0 1 0 -1.4 0M497.2 363.3m-0.8 0a0.8 0.8 0 1 0 1.7 0a0.8 0.8 0 1 0 -1.7 0M507.0 283.6m-0.7 0a0.7 0.7 0 1 0 1.3 0a0.7 0.7 0 1 0 -1.3 0M503.8 288.5m-0.7 0a0.7 0.7 0 1 0 1.4 0a0.7 0.7 0 1 0 -1.4 0M502.0 287.4m-0.8 0a0.8 0.8 0 1 0 1.6 0a0.8 0.8 0 1 0 -1.6 0M501.4 285.9m-0.6 0a0.6 0.6 0 1 0 1.3 0a0.6 0.6 0 1 0 -1.3 0M508.3 284.6m-0.7 0a0.7 0.7 0 1 0 1.4 0a0.7 0.7 0 1 0 -1.4 0M504.7 286.2m-0.6 0a0.6 0.6 0 1 0 1.3 0a0.6 0.6 0 1 0 -1.3 0M510.7 285.6m-0.6 0a0.6 0.6 0 1 0 1.1 0a0.6 0.6 0 1 0 -1.1 0M509.5 286.3m-0.7 0a0.7 0.7 0 1 0 1.4 0a0.7 0.7 0 1 0 -1.4 0M507.4 285.5m-0.7 0a0.7 0.7 0 1 0 1.4 0a0.7 0.7 0 1 0 -1.4 0M508.5 289.1m-0.5 0a0.5 0.5 0 1 0 1.0 0a0.5 0.5 0 1 0 -1.0 0M507.0 305.5m-0.6 0a0.6 0.6 0 1 0 1.2 0a0.6 0.6 0 1 0 -1.2 0M508.4 306.8m-0.9 0a0.9 0.9 0 1 0 1.8 0a0.9 0.9 0 1 0 -1.8 0M510.3 306.7m-0.5 0a0.5 0.5 0 1 0 1.0 0a0.5 0.5 0 1 0 -1.0 0M509.8 310.5m-0.8 0a0.8 0.8 0 1 0 1.7 0a0.8 0.8 0 1 0 -1.7 0M511.5 304.3m-0.5 0a0.5 0.5 0 1 0 1.1 0a0.5 0.5 0 1 0 -1.1 0M514.0 314.9m-0.5 0a0.5 0.5 0 1 0 1.0 0a0.5 0.5 0 1 0 -1.0 0M509.3 305.2m-0.9 0a0.9 0.9 0 1 0 1.7 0a0.9 0.9 0 1 0 -1.7 0M509.1 307.7m-0.6 0a0.6 0.6 0 1 0 1.2 0a0.6 0.6 0 1 0 -1.2 0M501.5 318.9m-0.7 0a0.7 0.7 0 1 0 1.4 0a0.7 0.7 0 1 0 -1.4 0M507.1 309.6m-0.7 0a0.7 0.7 0 1 0 1.4 0a0.7 0.7 0 1 0 -1.4 0M508.6 318.4m-0.9 0a0.9 0.9 0 1 0 1.8 0a0.9 0.9 0 1 0 -1.8 0M500.3 316.6m-0.7 0a0.7 0.7 0 1 0 1.5 0a0.7 0.7 0 1 0 -1.5 0M501.6 315.2m-0.8 0a0.8 0.8 0 1 0 1.7 0a0.8 0.8 0 1 0 -1.7 0M505.2 314.0m-0.8 0a0.8 0.8 0 1 0 1.6 0a0.8 0.8 0 1 0 -1.6 0M500.9 312.0m-0.6 0a0.6 0.6 0 1 0 1.1 0a0.6 0.6 0 1 0 -1.1 0M511.3 340.5m-0.6 0a0.6 0.6 0 1 0 1.2 0a0.6 0.6 0 1 0 -1.2 0M510.4 340.5m-0.8 0a0.8 0.8 0 1 0 1.6 0a0.8 0.8 0 1 0 -1.6 0M510.9 340.0m-0.8 0a0.8 0.8 0 1 0 1.6 0a0.8 0.8 0 1 0 -1.6 0M508.5 338.6m-0.7 0a0.7 0.7 0 1 0 1.4 0a0.7 0.7 0 1 0 -1.4 0M511.7 338.7m-0.9 0a0.9 0.9 0 1 0 1.7 0a0.9 0.9 0 1 0 -1.7 0M511.2 353.9m-0.8 0a0.8 0.8 0 1 0 1.6 0a0.8 0.8 0 1 0 -1.6 0M506.2 362.8m-0.6 0a0.6 0.6 0 1 0 1.2 0a0.6 0.6 0 1 0 -1.2 0M505.6 358.9m-0.5 0a0.5 0.5 0 1 0 1.1 0a0.5 0.5 0 1 0 -1.1 0M509.0 356.4m-0.9 0a0.9 0.9 0 1 0 1.8 0a0.9 0.9 0 1 0 -1.8 0M508.2 355.0m-0.8 0a0.8 0.8 0 1 0 1.6 0a0.8 0.8 0 1 0 -1.6 0M511.2 361.5m-0.9 0a0.9 0.9 0 1 0 1.8 0a0.9 0.9 0 1 0 -1.8 0M502.6 358.2m-0.7 0a0.7 0.7 0 1 0 1.5 0a0.7 0.7 0 1 0 -1.5 0M502.5 358.4m-0.6 0a0.6 0.6 0 1 0 1.2 0a0.6 0.6 0 1 0 -1.2 0M504.0 358.6m-0.7 0a0.7 0.7 0 1 0 1.5 0a0.7 0.7 0 1 0 -1.5 0M509.0 354.5m-0.7 0a0.7 0.7 0 1 0 1.4 0a0.7 0.7 0 1 0 -1.4 0M501.8 359.2m-0.7 0a0.7 0.7 0 1 0 1.5 0a0.7 0.7 0 1 0 -1.5 0M511.7 347.6m-0.9 0a0.9 0.9 0 1 0 1.8 0a0.9 0.9 0 1 0 -1.8 0M512.9 342.0m-0.7 0a0.7 0.7 0 1 0 1.5 0a0.7 0.7 0 1 0 -1.5 0" fill="#474b4f"/>
<path d="M438.8 312.2m-0.6 0a0.6 0.6 0 1 0 1.2 0a0.6 0.6 0 1 0 -1.2 0M478.4 330.5m-0.6 0a0.6 0.6 0 1 0 1.2 0a0.6 0.6 0 1 0 -1.2 0M481.8 321.5m-0.6 0a0.6 0.6 0 1 0 1.1 0a0.6 0.6 0 1 0 -1.1 0M507.7 303.2m-0.6 0a0.6 0.6 0 1 0 1.1 0a0.6 0.6 0 1 0 -1.1 0M438.0 334.4m-0.8 0a0.8 0.8 0 1 0 1.7 0a0.8 0.8 0 1 0 -1.7 0M494.9 315.8m-0.6 0a0.6 0.6 0 1 0 1.2 0a0.6 0.6 0 1 0 -1.2 0M476.7 311.7m-0.8 0a0.8 0.8 0 1 0 1.5 0a0.8 0.8 0 1 0 -1.5 0M466.8 358.0m-0.8 0a0.8 0.8 0 1 0 1.6 0a0.8 0.8 0 1 0 -1.6 0M450.6 355.4m-0.5 0a0.5 0.5 0 1 0 1.0 0a0.5 0.5 0 1 0 -1.0 0M474.1 316.1m-0.6 0a0.6 0.6 0 1 0 1.2 0a0.6 0.6 0 1 0 -1.2 0M508.1 295.2m-0.6 0a0.6 0.6 0 1 0 1.2 0a0.6 0.6 0 1 0 -1.2 0M480.5 324.0m-0.8 0a0.8 0.8 0 1 0 1.5 0a0.8 0.8 0 1 0 -1.5 0M497.5 297.8m-0.6 0a0.6 0.6 0 1 0 1.2 0a0.6 0.6 0 1 0 -1.2 0M503.8 345.9m-0.8 0a0.8 0.8 0 1 0 1.6 0a0.8 0.8 0 1 0 -1.6 0M491.9 320.8m-0.8 0a0.8 0.8 0 1 0 1.6 0a0.8 0.8 0 1 0 -1.6 0M467.6 301.8m-0.5 0a0.5 0.5 0 1 0 1.1 0a0.5 0.5 0 1 0 -1.1 0M457.8 343.2m-0.8 0a0.8 0.8 0 1 0 1.6 0a0.8 0.8 0 1 0 -1.6 0M500.2 340.2m-0.6 0a0.6 0.6 0 1 0 1.2 0a0.6 0.6 0 1 0 -1.2 0M476.0 318.4m-0.8 0a0.8 0.8 0 1 0 1.6 0a0.8 0.8 0 1 0 -1.6 0M473.4 305.0m-0.8 0a0.8 0.8 0 1 0 1.5 0a0.8 0.8 0 1 0 -1.5 0M510.1 301.1m-0.9 0a0.9 0.9 0 1 0 1.7 0a0.9 0.9 0 1 0 -1.7 0M449.6 342.8m-0.9 0a0.9 0.9 0 1 0 1.8 0a0.9 0.9 0 1 0 -1.8 0M491.9 309.8m-0.9 0a0.9 0.9 0 1 0 1.7 0a0.9 0.9 0 1 0 -1.7 0M457.3 302.9m-0.9 0a0.9 0.9 0 1 0 1.7 0a0.9 0.9 0 1 0 -1.7 0M482.3 338.7m-0.8 0a0.8 0.8 0 1 0 1.5 0a0.8 0.8 0 1 0 -1.5 0M511.3 321.1m-0.8 0a0.8 0.8 0 1 0 1.7 0a0.8 0.8 0 1 0 -1.7 0M487.9 351.7m-0.7 0a0.7 0.7 0 1 0 1.3 0a0.7 0.7 0 1 0 -1.3 0M490.1 329.1m-0.6 0a0.6 0.6 0 1 0 1.2 0a0.6 0.6 0 1 0 -1.2 0M447.6 333.2m-0.5 0a0.5 0.5 0 1 0 1.1 0a0.5 0.5 0 1 0 -1.1 0M505.6 295.4m-0.5 0a0.5 0.5 0 1 0 1.0 0a0.5 0.5 0 1 0 -1.0 0M458.6 295.2m-0.5 0a0.5 0.5 0 1 0 1.0 0a0.5 0.5 0 1 0 -1.0 0M482.6 339.1m-0.8 0a0.8 0.8 0 1 0 1.6 0a0.8 0.8 0 1 0 -1.6 0M435.5 330.6m-0.6 0a0.6 0.6 0 1 0 1.3 0a0.6 0.6 0 1 0 -1.3 0M497.9 348.7m-0.9 0a0.9 0.9 0 1 0 1.7 0a0.9 0.9 0 1 0 -1.7 0M505.9 358.6m-0.5 0a0.5 0.5 0 1 0 1.1 0a0.5 0.5 0 1 0 -1.1 0M497.4 334.1m-0.8 0a0.8 0.8 0 1 0 1.7 0a0.8 0.8 0 1 0 -1.7 0M482.4 306.7m-0.5 0a0.5 0.5 0 1 0 1.1 0a0.5 0.5 0 1 0 -1.1 0M438.1 343.8m-0.6 0a0.6 0.6 0 1 0 1.2 0a0.6 0.6 0 1 0 -1.2 0M456.5 317.5m-0.5 0a0.5 0.5 0 1 0 1.0 0a0.5 0.5 0 1 0 -1.0 0M451.3 306.3m-0.8 0a0.8 0.8 0 1 0 1.6 0a0.8 0.8 0 1 0 -1.6 0M460.5 309.3m-0.9 0a0.9 0.9 0 1 0 1.8 0a0.9 0.9 0 1 0 -1.8 0M471.8 351.3m-0.7 0a0.7 0.7 0 1 0 1.5 0a0.7 0.7 0 1 0 -1.5 0M432.6 316.6m-0.7 0a0.7 0.7 0 1 0 1.3 0a0.7 0.7 0 1 0 -1.3 0M494.2 311.4m-0.8 0a0.8 0.8 0 1 0 1.6 0a0.8 0.8 0 1 0 -1.6 0M474.6 301.1m-0.8 0a0.8 0.8 0 1 0 1.7 0a0.8 0.8 0 1 0 -1.7 0" fill="#c2c5c7"/>
</g><g filter="url(#texL)">
<path d="M428.0 280.0C435.0 280.0 457.3 278.4 462.0 280.0C466.7 281.6 458.7 286.7 456.0 289.5C453.3 292.3 448.1 294.8 446.0 297.0C443.9 299.2 445.0 301.6 443.3 303.0C441.6 304.4 438.1 303.8 436.0 305.5C433.9 307.2 432.3 310.2 431.0 313.0C429.7 315.8 429.8 320.5 428.0 322.0C426.2 323.5 421.3 329.0 420.0 322.0C418.7 315.0 418.7 287.0 420.0 280.0C421.3 273.0 421.0 280.0 428.0 280.0Z" fill="#d8dadc" />
</g><g filter="url(#tex2)">
<path d="M419.0 280.0C420.7 276.2 426.7 278.2 429.0 280.0C431.3 281.8 432.4 287.8 433.0 291.0C433.6 294.2 433.2 297.6 432.5 299.5C431.8 301.4 430.8 301.7 428.5 302.3C426.2 302.9 420.6 306.7 419.0 303.0C417.4 299.3 417.3 283.8 419.0 280.0Z" fill="#8e9295" />
<path d="M436.0 280.0C437.1 278.8 442.1 278.9 443.3 280.0C444.5 281.1 443.6 285.0 443.0 286.5C442.4 288.0 440.6 288.7 439.5 288.8C438.4 288.9 437.1 288.5 436.5 287.0C435.9 285.5 434.9 281.2 436.0 280.0Z" fill="#8e9295" />
</g></g>
<path d="M0.6 0V370M0 0.5H520" stroke="#111" stroke-width="1.2" fill="none"/>
<path d="M519.15 0V370" stroke="#111" stroke-width="1.7" fill="none"/><path d="M0 369.25H520" stroke="#111" stroke-width="1.5" fill="none"/>
</svg>
</body></html>
